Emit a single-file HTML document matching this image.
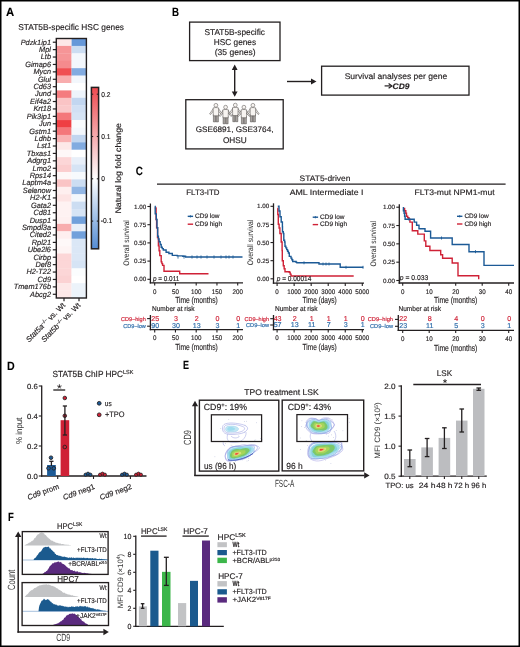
<!DOCTYPE html>
<html><head><meta charset="utf-8"><style>
html,body{margin:0;padding:0;background:#fff;}
svg{display:block;font-family:"Liberation Sans", sans-serif;text-rendering:geometricPrecision;will-change:transform;}
</style></head><body>
<svg width="520" height="647" viewBox="0 0 520 647">
<rect x="0" y="0" width="520" height="647" fill="#fff"/>
<rect x="0.75" y="0.75" width="518.50" height="645.50" fill="none" stroke="#000" stroke-width="1.5" />
<text x="6.10" y="15.63" font-size="12.0" text-anchor="start" fill="#000" stroke="#000" stroke-width="0.1" font-weight="bold" textLength="8.200000000000001" lengthAdjust="spacingAndGlyphs">A</text>
<text x="18.20" y="29.79" font-size="8.5" text-anchor="start" fill="#231f20" stroke="#231f20" stroke-width="0.16" textLength="105.8" lengthAdjust="spacingAndGlyphs">STAT5B-specific HSC genes</text>
<rect x="56.30" y="38.50" width="15.30" height="7.71" fill="#fde8e8" />
<rect x="71.60" y="38.50" width="14.80" height="7.71" fill="#6698d9" />
<line x1="52.80" y1="42.21" x2="56.30" y2="42.21" stroke="#231f20" stroke-width="1.2" />
<text x="51.00" y="44.56" font-size="7.6" text-anchor="end" fill="#231f20" stroke="#231f20" stroke-width="0.16" font-style="italic" textLength="30.33" lengthAdjust="spacingAndGlyphs">Pdzk1ip1</text>
<rect x="56.30" y="45.91" width="15.30" height="7.71" fill="#f69597" />
<rect x="71.60" y="45.91" width="14.80" height="7.71" fill="#ccddf2" />
<line x1="52.80" y1="49.62" x2="56.30" y2="49.62" stroke="#231f20" stroke-width="1.2" />
<text x="51.00" y="51.98" font-size="7.6" text-anchor="end" fill="#231f20" stroke="#231f20" stroke-width="0.16" font-style="italic" textLength="11.88" lengthAdjust="spacingAndGlyphs">Mpl</text>
<rect x="56.30" y="53.33" width="15.30" height="7.71" fill="#f69597" />
<rect x="71.60" y="53.33" width="14.80" height="7.71" fill="#f3f7fc" />
<line x1="52.80" y1="57.04" x2="56.30" y2="57.04" stroke="#231f20" stroke-width="1.2" />
<text x="51.00" y="59.39" font-size="7.6" text-anchor="end" fill="#231f20" stroke="#231f20" stroke-width="0.16" font-style="italic" textLength="10.25" lengthAdjust="spacingAndGlyphs">Ltb</text>
<rect x="56.30" y="60.74" width="15.30" height="7.71" fill="#f58b8d" />
<rect x="71.60" y="60.74" width="14.80" height="7.71" fill="#f3f7fc" />
<line x1="52.80" y1="64.45" x2="56.30" y2="64.45" stroke="#231f20" stroke-width="1.2" />
<text x="51.00" y="66.81" font-size="7.6" text-anchor="end" fill="#231f20" stroke="#231f20" stroke-width="0.16" font-style="italic" textLength="25.81" lengthAdjust="spacingAndGlyphs">Gimap6</text>
<rect x="56.30" y="68.16" width="15.30" height="7.71" fill="#f04f52" />
<rect x="71.60" y="68.16" width="14.80" height="7.71" fill="#82abe0" />
<line x1="52.80" y1="71.86" x2="56.30" y2="71.86" stroke="#231f20" stroke-width="1.2" />
<text x="51.00" y="74.22" font-size="7.6" text-anchor="end" fill="#231f20" stroke="#231f20" stroke-width="0.16" font-style="italic" textLength="17.61" lengthAdjust="spacingAndGlyphs">Mycn</text>
<rect x="56.30" y="75.57" width="15.30" height="7.71" fill="#f8adae" />
<rect x="71.60" y="75.57" width="14.80" height="7.71" fill="#f3f7fc" />
<line x1="52.80" y1="79.28" x2="56.30" y2="79.28" stroke="#231f20" stroke-width="1.2" />
<text x="51.00" y="81.63" font-size="7.6" text-anchor="end" fill="#231f20" stroke="#231f20" stroke-width="0.16" font-style="italic" textLength="13.11" lengthAdjust="spacingAndGlyphs">Glul</text>
<rect x="56.30" y="82.99" width="15.30" height="7.71" fill="#ffffff" />
<rect x="71.60" y="82.99" width="14.80" height="7.71" fill="#ffffff" />
<line x1="52.80" y1="86.69" x2="56.30" y2="86.69" stroke="#231f20" stroke-width="1.2" />
<text x="51.00" y="89.05" font-size="7.6" text-anchor="end" fill="#231f20" stroke="#231f20" stroke-width="0.16" font-style="italic" textLength="17.62" lengthAdjust="spacingAndGlyphs">Cd63</text>
<rect x="56.30" y="90.40" width="15.30" height="7.71" fill="#f47c7f" />
<rect x="71.60" y="90.40" width="14.80" height="7.71" fill="#eef4fb" />
<line x1="52.80" y1="94.11" x2="56.30" y2="94.11" stroke="#231f20" stroke-width="1.2" />
<text x="51.00" y="96.46" font-size="7.6" text-anchor="end" fill="#231f20" stroke="#231f20" stroke-width="0.16" font-style="italic" textLength="15.99" lengthAdjust="spacingAndGlyphs">Jund</text>
<rect x="56.30" y="97.81" width="15.30" height="7.71" fill="#fac4c5" />
<rect x="71.60" y="97.81" width="14.80" height="7.71" fill="#c2d6f0" />
<line x1="52.80" y1="101.52" x2="56.30" y2="101.52" stroke="#231f20" stroke-width="1.2" />
<text x="51.00" y="103.88" font-size="7.6" text-anchor="end" fill="#231f20" stroke="#231f20" stroke-width="0.16" font-style="italic" textLength="20.9" lengthAdjust="spacingAndGlyphs">Eif4a2</text>
<rect x="56.30" y="105.23" width="15.30" height="7.71" fill="#fac9ca" />
<rect x="71.60" y="105.23" width="14.80" height="7.71" fill="#d1e0f4" />
<line x1="52.80" y1="108.94" x2="56.30" y2="108.94" stroke="#231f20" stroke-width="1.2" />
<text x="51.00" y="111.29" font-size="7.6" text-anchor="end" fill="#231f20" stroke="#231f20" stroke-width="0.16" font-style="italic" textLength="17.62" lengthAdjust="spacingAndGlyphs">Krt18</text>
<rect x="56.30" y="112.64" width="15.30" height="7.71" fill="#f4777a" />
<rect x="71.60" y="112.64" width="14.80" height="7.71" fill="#d6e4f5" />
<line x1="52.80" y1="116.35" x2="56.30" y2="116.35" stroke="#231f20" stroke-width="1.2" />
<text x="51.00" y="118.71" font-size="7.6" text-anchor="end" fill="#231f20" stroke="#231f20" stroke-width="0.16" font-style="italic" textLength="24.18" lengthAdjust="spacingAndGlyphs">Pik3ip1</text>
<rect x="56.30" y="120.06" width="15.30" height="7.71" fill="#ef3f43" />
<rect x="71.60" y="120.06" width="14.80" height="7.71" fill="#f9fbfd" />
<line x1="52.80" y1="123.76" x2="56.30" y2="123.76" stroke="#231f20" stroke-width="1.2" />
<text x="51.00" y="126.12" font-size="7.6" text-anchor="end" fill="#231f20" stroke="#231f20" stroke-width="0.16" font-style="italic" textLength="11.89" lengthAdjust="spacingAndGlyphs">Jun</text>
<rect x="56.30" y="127.47" width="15.30" height="7.71" fill="#f4777a" />
<rect x="71.60" y="127.47" width="14.80" height="7.71" fill="#f3f7fc" />
<line x1="52.80" y1="131.18" x2="56.30" y2="131.18" stroke="#231f20" stroke-width="1.2" />
<text x="51.00" y="133.53" font-size="7.6" text-anchor="end" fill="#231f20" stroke="#231f20" stroke-width="0.16" font-style="italic" textLength="21.71" lengthAdjust="spacingAndGlyphs">Gstm1</text>
<rect x="56.30" y="134.89" width="15.30" height="7.71" fill="#f9b2b3" />
<rect x="71.60" y="134.89" width="14.80" height="7.71" fill="#c2d6f0" />
<line x1="52.80" y1="138.59" x2="56.30" y2="138.59" stroke="#231f20" stroke-width="1.2" />
<text x="51.00" y="140.95" font-size="7.6" text-anchor="end" fill="#231f20" stroke="#231f20" stroke-width="0.16" font-style="italic" textLength="16.4" lengthAdjust="spacingAndGlyphs">Ldhb</text>
<rect x="56.30" y="142.30" width="15.30" height="7.71" fill="#fde8e8" />
<rect x="71.60" y="142.30" width="14.80" height="7.71" fill="#82abe0" />
<line x1="52.80" y1="146.01" x2="56.30" y2="146.01" stroke="#231f20" stroke-width="1.2" />
<text x="51.00" y="148.36" font-size="7.6" text-anchor="end" fill="#231f20" stroke="#231f20" stroke-width="0.16" font-style="italic" textLength="13.93" lengthAdjust="spacingAndGlyphs">Lst1</text>
<rect x="56.30" y="149.71" width="15.30" height="7.71" fill="#fef8f8" />
<rect x="71.60" y="149.71" width="14.80" height="7.71" fill="#ffffff" />
<line x1="52.80" y1="153.42" x2="56.30" y2="153.42" stroke="#231f20" stroke-width="1.2" />
<text x="51.00" y="155.78" font-size="7.6" text-anchor="end" fill="#231f20" stroke="#231f20" stroke-width="0.16" font-style="italic" textLength="24.18" lengthAdjust="spacingAndGlyphs">Tbxas1</text>
<rect x="56.30" y="157.13" width="15.30" height="7.71" fill="#fcd6d7" />
<rect x="71.60" y="157.13" width="14.80" height="7.71" fill="#e8eff9" />
<line x1="52.80" y1="160.84" x2="56.30" y2="160.84" stroke="#231f20" stroke-width="1.2" />
<text x="51.00" y="163.19" font-size="7.6" text-anchor="end" fill="#231f20" stroke="#231f20" stroke-width="0.16" font-style="italic" textLength="23.77" lengthAdjust="spacingAndGlyphs">Adgrg1</text>
<rect x="56.30" y="164.54" width="15.30" height="7.71" fill="#fbcdce" />
<rect x="71.60" y="164.54" width="14.80" height="7.71" fill="#d6e4f5" />
<line x1="52.80" y1="168.25" x2="56.30" y2="168.25" stroke="#231f20" stroke-width="1.2" />
<text x="51.00" y="170.61" font-size="7.6" text-anchor="end" fill="#231f20" stroke="#231f20" stroke-width="0.16" font-style="italic" textLength="18.44" lengthAdjust="spacingAndGlyphs">Lmo2</text>
<rect x="56.30" y="171.96" width="15.30" height="7.71" fill="#fef7f7" />
<rect x="71.60" y="171.96" width="14.80" height="7.71" fill="#f7fafd" />
<line x1="52.80" y1="175.66" x2="56.30" y2="175.66" stroke="#231f20" stroke-width="1.2" />
<text x="51.00" y="178.02" font-size="7.6" text-anchor="end" fill="#231f20" stroke="#231f20" stroke-width="0.16" font-style="italic" textLength="21.31" lengthAdjust="spacingAndGlyphs">Rps14</text>
<rect x="56.30" y="179.37" width="15.30" height="7.71" fill="#fac4c5" />
<rect x="71.60" y="179.37" width="14.80" height="7.71" fill="#ccddf2" />
<line x1="52.80" y1="183.08" x2="56.30" y2="183.08" stroke="#231f20" stroke-width="1.2" />
<text x="51.00" y="185.43" font-size="7.6" text-anchor="end" fill="#231f20" stroke="#231f20" stroke-width="0.16" font-style="italic" textLength="28.69" lengthAdjust="spacingAndGlyphs">Laptm4a</text>
<rect x="56.30" y="186.79" width="15.30" height="7.71" fill="#feefef" />
<rect x="71.60" y="186.79" width="14.80" height="7.71" fill="#92b6e4" />
<line x1="52.80" y1="190.49" x2="56.30" y2="190.49" stroke="#231f20" stroke-width="1.2" />
<text x="51.00" y="192.85" font-size="7.6" text-anchor="end" fill="#231f20" stroke="#231f20" stroke-width="0.16" font-style="italic" textLength="28.28" lengthAdjust="spacingAndGlyphs">Selenow</text>
<rect x="56.30" y="194.20" width="15.30" height="7.71" fill="#fde4e4" />
<rect x="71.60" y="194.20" width="14.80" height="7.71" fill="#f3f7fc" />
<line x1="52.80" y1="197.91" x2="56.30" y2="197.91" stroke="#231f20" stroke-width="1.2" />
<text x="51.00" y="200.26" font-size="7.6" text-anchor="end" fill="#231f20" stroke="#231f20" stroke-width="0.16" font-style="italic" textLength="20.9" lengthAdjust="spacingAndGlyphs">H2-K1</text>
<rect x="56.30" y="201.61" width="15.30" height="7.71" fill="#fef2f2" />
<rect x="71.60" y="201.61" width="14.80" height="7.71" fill="#ccddf2" />
<line x1="52.80" y1="205.32" x2="56.30" y2="205.32" stroke="#231f20" stroke-width="1.2" />
<text x="51.00" y="207.68" font-size="7.6" text-anchor="end" fill="#231f20" stroke="#231f20" stroke-width="0.16" font-style="italic" textLength="20.08" lengthAdjust="spacingAndGlyphs">Gata2</text>
<rect x="56.30" y="209.03" width="15.30" height="7.71" fill="#fef2f2" />
<rect x="71.60" y="209.03" width="14.80" height="7.71" fill="#d6e4f5" />
<line x1="52.80" y1="212.74" x2="56.30" y2="212.74" stroke="#231f20" stroke-width="1.2" />
<text x="51.00" y="215.09" font-size="7.6" text-anchor="end" fill="#231f20" stroke="#231f20" stroke-width="0.16" font-style="italic" textLength="17.62" lengthAdjust="spacingAndGlyphs">Cd81</text>
<rect x="56.30" y="216.44" width="15.30" height="7.71" fill="#fef0f0" />
<rect x="71.60" y="216.44" width="14.80" height="7.71" fill="#71a0db" />
<line x1="52.80" y1="220.15" x2="56.30" y2="220.15" stroke="#231f20" stroke-width="1.2" />
<text x="51.00" y="222.51" font-size="7.6" text-anchor="end" fill="#231f20" stroke="#231f20" stroke-width="0.16" font-style="italic" textLength="21.31" lengthAdjust="spacingAndGlyphs">Dusp1</text>
<rect x="56.30" y="223.86" width="15.30" height="7.71" fill="#f8adae" />
<rect x="71.60" y="223.86" width="14.80" height="7.71" fill="#e8eff9" />
<line x1="52.80" y1="227.56" x2="56.30" y2="227.56" stroke="#231f20" stroke-width="1.2" />
<text x="51.00" y="229.92" font-size="7.6" text-anchor="end" fill="#231f20" stroke="#231f20" stroke-width="0.16" font-style="italic" textLength="29.1" lengthAdjust="spacingAndGlyphs">Smpdl3a</text>
<rect x="56.30" y="231.27" width="15.30" height="7.71" fill="#feefef" />
<rect x="71.60" y="231.27" width="14.80" height="7.71" fill="#71a0db" />
<line x1="52.80" y1="234.98" x2="56.30" y2="234.98" stroke="#231f20" stroke-width="1.2" />
<text x="51.00" y="237.33" font-size="7.6" text-anchor="end" fill="#231f20" stroke="#231f20" stroke-width="0.16" font-style="italic" textLength="21.31" lengthAdjust="spacingAndGlyphs">Cited2</text>
<rect x="56.30" y="238.69" width="15.30" height="7.71" fill="#fef8f8" />
<rect x="71.60" y="238.69" width="14.80" height="7.71" fill="#dbe7f6" />
<line x1="52.80" y1="242.39" x2="56.30" y2="242.39" stroke="#231f20" stroke-width="1.2" />
<text x="51.00" y="244.75" font-size="7.6" text-anchor="end" fill="#231f20" stroke="#231f20" stroke-width="0.16" font-style="italic" textLength="19.26" lengthAdjust="spacingAndGlyphs">Rpl21</text>
<rect x="56.30" y="246.10" width="15.30" height="7.71" fill="#fef4f4" />
<rect x="71.60" y="246.10" width="14.80" height="7.71" fill="#dbe7f6" />
<line x1="52.80" y1="249.81" x2="56.30" y2="249.81" stroke="#231f20" stroke-width="1.2" />
<text x="51.00" y="252.16" font-size="7.6" text-anchor="end" fill="#231f20" stroke="#231f20" stroke-width="0.16" font-style="italic" textLength="23.36" lengthAdjust="spacingAndGlyphs">Ube2l6</text>
<rect x="56.30" y="253.51" width="15.30" height="7.71" fill="#fcd6d7" />
<rect x="71.60" y="253.51" width="14.80" height="7.71" fill="#dbe7f6" />
<line x1="52.80" y1="257.22" x2="56.30" y2="257.22" stroke="#231f20" stroke-width="1.2" />
<text x="51.00" y="259.58" font-size="7.6" text-anchor="end" fill="#231f20" stroke="#231f20" stroke-width="0.16" font-style="italic" textLength="17.62" lengthAdjust="spacingAndGlyphs">Cirbp</text>
<rect x="56.30" y="260.93" width="15.30" height="7.71" fill="#fcd6d7" />
<rect x="71.60" y="260.93" width="14.80" height="7.71" fill="#d6e4f5" />
<line x1="52.80" y1="264.64" x2="56.30" y2="264.64" stroke="#231f20" stroke-width="1.2" />
<text x="51.00" y="266.99" font-size="7.6" text-anchor="end" fill="#231f20" stroke="#231f20" stroke-width="0.16" font-style="italic" textLength="15.57" lengthAdjust="spacingAndGlyphs">Def8</text>
<rect x="56.30" y="268.34" width="15.30" height="7.71" fill="#fcd6d7" />
<rect x="71.60" y="268.34" width="14.80" height="7.71" fill="#fbfdfe" />
<line x1="52.80" y1="272.05" x2="56.30" y2="272.05" stroke="#231f20" stroke-width="1.2" />
<text x="51.00" y="274.41" font-size="7.6" text-anchor="end" fill="#231f20" stroke="#231f20" stroke-width="0.16" font-style="italic" textLength="24.58" lengthAdjust="spacingAndGlyphs">H2-T22</text>
<rect x="56.30" y="275.76" width="15.30" height="7.71" fill="#fbd2d3" />
<rect x="71.60" y="275.76" width="14.80" height="7.71" fill="#ffffff" />
<line x1="52.80" y1="279.46" x2="56.30" y2="279.46" stroke="#231f20" stroke-width="1.2" />
<text x="51.00" y="281.82" font-size="7.6" text-anchor="end" fill="#231f20" stroke="#231f20" stroke-width="0.16" font-style="italic" textLength="13.52" lengthAdjust="spacingAndGlyphs">Cd9</text>
<rect x="56.30" y="283.17" width="15.30" height="7.71" fill="#fde8e8" />
<rect x="71.60" y="283.17" width="14.80" height="7.71" fill="#ecf3fa" />
<line x1="52.80" y1="286.88" x2="56.30" y2="286.88" stroke="#231f20" stroke-width="1.2" />
<text x="51.00" y="289.23" font-size="7.6" text-anchor="end" fill="#231f20" stroke="#231f20" stroke-width="0.16" font-style="italic" textLength="37.29" lengthAdjust="spacingAndGlyphs">Tmem176b</text>
<rect x="56.30" y="290.59" width="15.30" height="7.71" fill="#fde8e8" />
<rect x="71.60" y="290.59" width="14.80" height="7.71" fill="#ecf3fa" />
<line x1="52.80" y1="294.29" x2="56.30" y2="294.29" stroke="#231f20" stroke-width="1.2" />
<text x="51.00" y="296.65" font-size="7.6" text-anchor="end" fill="#231f20" stroke="#231f20" stroke-width="0.16" font-style="italic" textLength="20.9" lengthAdjust="spacingAndGlyphs">Abcg2</text>
<rect x="56.30" y="38.50" width="30.10" height="259.50" fill="none" stroke="#231f20" stroke-width="1.4" />
<line x1="64.00" y1="298.00" x2="64.00" y2="301.20" stroke="#231f20" stroke-width="1.2" />
<line x1="79.00" y1="298.00" x2="79.00" y2="301.20" stroke="#231f20" stroke-width="1.2" />
<text transform="translate(65.80,305.8) rotate(-45)" x="0" y="0" font-size="7.6" text-anchor="end" fill="#231f20" stroke="#231f20" stroke-width="0.16"><tspan font-style="italic">Stat5a</tspan><tspan font-size="5" dy="-2.8">–/–</tspan><tspan dy="2.8"> vs. Wt</tspan></text>
<text transform="translate(81.00,305.8) rotate(-45)" x="0" y="0" font-size="7.6" text-anchor="end" fill="#231f20" stroke="#231f20" stroke-width="0.16"><tspan font-style="italic">Stat5b</tspan><tspan font-size="5" dy="-2.8">–/–</tspan><tspan dy="2.8"> vs. Wt</tspan></text>
<defs><linearGradient id="cbg" x1="0" y1="0" x2="0" y2="1"><stop offset="0" stop-color="#ee4a50"/><stop offset="0.5663" stop-color="#ffffff"/><stop offset="1" stop-color="#548cd4"/></linearGradient></defs>
<rect x="91.40" y="87.40" width="7.20" height="161.40" fill="url(#cbg)" stroke="#231f20" stroke-width="1.5" />
<line x1="91.40" y1="94.20" x2="93.20" y2="94.20" stroke="#231f20" stroke-width="1.1" />
<line x1="96.80" y1="94.20" x2="98.60" y2="94.20" stroke="#231f20" stroke-width="1.1" />
<text x="101.30" y="96.58" font-size="7.0" text-anchor="start" fill="#231f20" stroke="#231f20" stroke-width="0.16" textLength="9.24" lengthAdjust="spacingAndGlyphs">0.2</text>
<line x1="91.40" y1="136.50" x2="93.20" y2="136.50" stroke="#231f20" stroke-width="1.1" />
<line x1="96.80" y1="136.50" x2="98.60" y2="136.50" stroke="#231f20" stroke-width="1.1" />
<text x="101.30" y="138.88" font-size="7.0" text-anchor="start" fill="#231f20" stroke="#231f20" stroke-width="0.16" textLength="9.24" lengthAdjust="spacingAndGlyphs">0.1</text>
<line x1="91.40" y1="178.80" x2="93.20" y2="178.80" stroke="#231f20" stroke-width="1.1" />
<line x1="96.80" y1="178.80" x2="98.60" y2="178.80" stroke="#231f20" stroke-width="1.1" />
<text x="101.30" y="181.18" font-size="7.0" text-anchor="start" fill="#231f20" stroke="#231f20" stroke-width="0.16" textLength="3.7" lengthAdjust="spacingAndGlyphs">0</text>
<line x1="91.40" y1="221.10" x2="93.20" y2="221.10" stroke="#231f20" stroke-width="1.1" />
<line x1="96.80" y1="221.10" x2="98.60" y2="221.10" stroke="#231f20" stroke-width="1.1" />
<text x="100.80" y="223.48" font-size="7.0" text-anchor="start" fill="#231f20" stroke="#231f20" stroke-width="0.16" textLength="11.46" lengthAdjust="spacingAndGlyphs">-0.1</text>
<text transform="translate(118.00,168.30) rotate(-90)" x="0" y="2.79" font-size="8.2" text-anchor="middle" fill="#231f20" stroke="#231f20" stroke-width="0.16" textLength="90.5" lengthAdjust="spacingAndGlyphs">Natural log fold change</text>
<text x="171.90" y="15.63" font-size="12.0" text-anchor="start" fill="#000" stroke="#000" stroke-width="0.1" font-weight="bold" textLength="7.0" lengthAdjust="spacingAndGlyphs">B</text>
<rect x="189.60" y="22.10" width="90.40" height="38.50" fill="none" stroke="#231f20" stroke-width="1.3" />
<text x="234.70" y="34.79" font-size="8.5" text-anchor="middle" fill="#231f20" stroke="#231f20" stroke-width="0.16" textLength="60.6" lengthAdjust="spacingAndGlyphs">STAT5B-specific</text>
<text x="234.95" y="44.89" font-size="8.5" text-anchor="middle" fill="#231f20" stroke="#231f20" stroke-width="0.16" textLength="42.3" lengthAdjust="spacingAndGlyphs">HSC genes</text>
<text x="235.15" y="55.19" font-size="8.5" text-anchor="middle" fill="#231f20" stroke="#231f20" stroke-width="0.16" textLength="40.9" lengthAdjust="spacingAndGlyphs">(35 genes)</text>
<line x1="234.70" y1="68.50" x2="234.70" y2="93.00" stroke="#231f20" stroke-width="1.4" />
<path d="M234.7,64.6 L231.8,70.0 L237.6,70.0 Z" fill="#231f20"/>
<path d="M234.7,96.8 L231.8,91.4 L237.6,91.4 Z" fill="#231f20"/>
<rect x="185.80" y="99.70" width="97.40" height="49.20" fill="none" stroke="#231f20" stroke-width="1.3" />
<text x="234.60" y="132.12" font-size="8.0" text-anchor="middle" fill="#231f20" stroke="#231f20" stroke-width="0.16" textLength="77.8" lengthAdjust="spacingAndGlyphs">GSE6891, GSE3764,</text>
<text x="234.80" y="142.62" font-size="8.3" text-anchor="middle" fill="#231f20" stroke="#231f20" stroke-width="0.16" textLength="23.8" lengthAdjust="spacingAndGlyphs">OHSU</text>
<path d="M213.40,114.30 L215.65,114.30 L215.65,121.90 L213.40,121.90 Z" fill="#a9a5a2" stroke="#3a3634" stroke-width="0.45"/>
<path d="M216.15,114.30 L218.40,114.30 L218.40,121.90 L216.15,121.90 Z" fill="#a9a5a2" stroke="#3a3634" stroke-width="0.45"/>
<path d="M213.50,108.30 L209.60,113.90 L210.60,114.50 L213.50,110.90 Z" fill="#f7f4f1" stroke="#3a3634" stroke-width="0.45" stroke-linejoin="round"/>
<path d="M218.30,108.30 L222.20,113.90 L221.20,114.50 L218.30,110.90 Z" fill="#f7f4f1" stroke="#3a3634" stroke-width="0.45" stroke-linejoin="round"/>
<path d="M213.10,107.90 Q215.90,107.10 218.70,107.90 L218.50,115.80 L213.30,115.80 Z" fill="#f7f4f1" stroke="#3a3634" stroke-width="0.45" stroke-linejoin="round"/>
<circle cx="215.90" cy="105.30" r="1.9" fill="#f7f4f1" stroke="#3a3634" stroke-width="0.45"/>
<path d="M223.10,116.20 L225.35,116.20 L225.35,123.80 L223.10,123.80 Z" fill="#a9a5a2" stroke="#3a3634" stroke-width="0.45"/>
<path d="M225.85,116.20 L228.10,116.20 L228.10,123.80 L225.85,123.80 Z" fill="#a9a5a2" stroke="#3a3634" stroke-width="0.45"/>
<path d="M223.20,110.20 L219.30,115.80 L220.30,116.40 L223.20,112.80 Z" fill="#f7f4f1" stroke="#3a3634" stroke-width="0.45" stroke-linejoin="round"/>
<path d="M228.00,110.20 L231.90,115.80 L230.90,116.40 L228.00,112.80 Z" fill="#f7f4f1" stroke="#3a3634" stroke-width="0.45" stroke-linejoin="round"/>
<path d="M222.80,109.80 Q225.60,109.00 228.40,109.80 L228.20,117.70 L223.00,117.70 Z" fill="#f7f4f1" stroke="#3a3634" stroke-width="0.45" stroke-linejoin="round"/>
<circle cx="225.60" cy="107.20" r="1.9" fill="#f7f4f1" stroke="#3a3634" stroke-width="0.45"/>
<path d="M232.80,114.10 L235.05,114.10 L235.05,121.70 L232.80,121.70 Z" fill="#a9a5a2" stroke="#3a3634" stroke-width="0.45"/>
<path d="M235.55,114.10 L237.80,114.10 L237.80,121.70 L235.55,121.70 Z" fill="#a9a5a2" stroke="#3a3634" stroke-width="0.45"/>
<path d="M232.90,108.10 L229.00,113.70 L230.00,114.30 L232.90,110.70 Z" fill="#f7f4f1" stroke="#3a3634" stroke-width="0.45" stroke-linejoin="round"/>
<path d="M237.70,108.10 L241.60,113.70 L240.60,114.30 L237.70,110.70 Z" fill="#f7f4f1" stroke="#3a3634" stroke-width="0.45" stroke-linejoin="round"/>
<path d="M232.50,107.70 Q235.30,106.90 238.10,107.70 L237.90,115.60 L232.70,115.60 Z" fill="#f7f4f1" stroke="#3a3634" stroke-width="0.45" stroke-linejoin="round"/>
<circle cx="235.30" cy="105.10" r="1.9" fill="#f7f4f1" stroke="#3a3634" stroke-width="0.45"/>
<path d="M241.40,116.20 L243.65,116.20 L243.65,123.80 L241.40,123.80 Z" fill="#a9a5a2" stroke="#3a3634" stroke-width="0.45"/>
<path d="M244.15,116.20 L246.40,116.20 L246.40,123.80 L244.15,123.80 Z" fill="#a9a5a2" stroke="#3a3634" stroke-width="0.45"/>
<path d="M241.50,110.20 L237.60,115.80 L238.60,116.40 L241.50,112.80 Z" fill="#f7f4f1" stroke="#3a3634" stroke-width="0.45" stroke-linejoin="round"/>
<path d="M246.30,110.20 L250.20,115.80 L249.20,116.40 L246.30,112.80 Z" fill="#f7f4f1" stroke="#3a3634" stroke-width="0.45" stroke-linejoin="round"/>
<path d="M241.10,109.80 Q243.90,109.00 246.70,109.80 L246.50,117.70 L241.30,117.70 Z" fill="#f7f4f1" stroke="#3a3634" stroke-width="0.45" stroke-linejoin="round"/>
<circle cx="243.90" cy="107.20" r="1.9" fill="#f7f4f1" stroke="#3a3634" stroke-width="0.45"/>
<path d="M250.40,114.30 L252.65,114.30 L252.65,121.90 L250.40,121.90 Z" fill="#a9a5a2" stroke="#3a3634" stroke-width="0.45"/>
<path d="M253.15,114.30 L255.40,114.30 L255.40,121.90 L253.15,121.90 Z" fill="#a9a5a2" stroke="#3a3634" stroke-width="0.45"/>
<path d="M250.50,108.30 L246.60,113.90 L247.60,114.50 L250.50,110.90 Z" fill="#f7f4f1" stroke="#3a3634" stroke-width="0.45" stroke-linejoin="round"/>
<path d="M255.30,108.30 L259.20,113.90 L258.20,114.50 L255.30,110.90 Z" fill="#f7f4f1" stroke="#3a3634" stroke-width="0.45" stroke-linejoin="round"/>
<path d="M250.10,107.90 Q252.90,107.10 255.70,107.90 L255.50,115.80 L250.30,115.80 Z" fill="#f7f4f1" stroke="#3a3634" stroke-width="0.45" stroke-linejoin="round"/>
<circle cx="252.90" cy="105.30" r="1.9" fill="#f7f4f1" stroke="#3a3634" stroke-width="0.45"/>
<line x1="287.00" y1="81.50" x2="312.30" y2="81.50" stroke="#231f20" stroke-width="1.4" />
<path d="M316.5,81.5 L311.0,78.6 L311.0,84.4 Z" fill="#231f20"/>
<rect x="321.60" y="66.20" width="147.40" height="28.90" fill="none" stroke="#231f20" stroke-width="1.3" />
<text x="396.00" y="79.09" font-size="8.2" text-anchor="middle" fill="#231f20" stroke="#231f20" stroke-width="0.16" textLength="102.7" lengthAdjust="spacingAndGlyphs">Survival analyses per gene</text>
<line x1="384.60" y1="85.90" x2="390.60" y2="85.90" stroke="#231f20" stroke-width="1.2" />
<path d="M388.6,83.6 L391.9,85.9 L388.6,88.2" fill="none" stroke="#231f20" stroke-width="1.2"/>
<text x="392.60" y="88.62" font-size="8.0" text-anchor="start" fill="#231f20" stroke="#231f20" stroke-width="0.16" font-weight="bold" font-style="italic" textLength="16.8" lengthAdjust="spacingAndGlyphs">CD9</text>
<text x="135.80" y="174.78" font-size="12.0" text-anchor="start" fill="#000" stroke="#000" stroke-width="0.1" font-weight="bold" textLength="7.099999999999994" lengthAdjust="spacingAndGlyphs">C</text>
<text x="325.00" y="181.32" font-size="8.0" text-anchor="middle" fill="#231f20" stroke="#231f20" stroke-width="0.16" textLength="50.8" lengthAdjust="spacingAndGlyphs">STAT5-driven</text>
<line x1="157.00" y1="184.20" x2="505.60" y2="184.20" stroke="#231f20" stroke-width="1.3" />
<text x="202.90" y="194.62" font-size="8.0" text-anchor="middle" fill="#231f20" stroke="#231f20" stroke-width="0.16" textLength="33.3" lengthAdjust="spacingAndGlyphs">FLT3-ITD</text>
<text x="326.60" y="194.82" font-size="8.0" text-anchor="middle" fill="#231f20" stroke="#231f20" stroke-width="0.16" textLength="73.8" lengthAdjust="spacingAndGlyphs">AML Intermediate I</text>
<text x="454.60" y="194.82" font-size="8.0" text-anchor="middle" fill="#231f20" stroke="#231f20" stroke-width="0.16" textLength="80" lengthAdjust="spacingAndGlyphs">FLT3-mut NPM1-mut</text>
<line x1="150.40" y1="203.50" x2="150.40" y2="283.45" stroke="#231f20" stroke-width="1.3" />
<line x1="147.40" y1="206.50" x2="150.40" y2="206.50" stroke="#231f20" stroke-width="1.1" />
<text x="146.20" y="208.61" font-size="6.2" text-anchor="end" fill="#231f20" stroke="#231f20" stroke-width="0.16" textLength="12.2" lengthAdjust="spacingAndGlyphs">1.00</text>
<line x1="147.40" y1="224.70" x2="150.40" y2="224.70" stroke="#231f20" stroke-width="1.1" />
<text x="146.20" y="226.81" font-size="6.2" text-anchor="end" fill="#231f20" stroke="#231f20" stroke-width="0.16" textLength="12.2" lengthAdjust="spacingAndGlyphs">0.75</text>
<line x1="147.40" y1="242.90" x2="150.40" y2="242.90" stroke="#231f20" stroke-width="1.1" />
<text x="146.20" y="245.01" font-size="6.2" text-anchor="end" fill="#231f20" stroke="#231f20" stroke-width="0.16" textLength="12.2" lengthAdjust="spacingAndGlyphs">0.50</text>
<line x1="147.40" y1="261.10" x2="150.40" y2="261.10" stroke="#231f20" stroke-width="1.1" />
<text x="146.20" y="263.21" font-size="6.2" text-anchor="end" fill="#231f20" stroke="#231f20" stroke-width="0.16" textLength="12.2" lengthAdjust="spacingAndGlyphs">0.25</text>
<line x1="147.40" y1="279.30" x2="150.40" y2="279.30" stroke="#231f20" stroke-width="1.1" />
<text x="146.20" y="281.41" font-size="6.2" text-anchor="end" fill="#231f20" stroke="#231f20" stroke-width="0.16" textLength="12.2" lengthAdjust="spacingAndGlyphs">0.00</text>
<line x1="149.75" y1="282.80" x2="243.00" y2="282.80" stroke="#231f20" stroke-width="1.3" />
<line x1="154.70" y1="282.80" x2="154.70" y2="285.60" stroke="#231f20" stroke-width="1.1" />
<text x="154.70" y="293.78" font-size="6.7" text-anchor="middle" fill="#231f20" stroke="#231f20" stroke-width="0.16" textLength="3.47" lengthAdjust="spacingAndGlyphs">0</text>
<line x1="175.45" y1="282.80" x2="175.45" y2="285.60" stroke="#231f20" stroke-width="1.1" />
<text x="175.45" y="293.78" font-size="6.7" text-anchor="middle" fill="#231f20" stroke="#231f20" stroke-width="0.16" textLength="6.93" lengthAdjust="spacingAndGlyphs">50</text>
<line x1="196.20" y1="282.80" x2="196.20" y2="285.60" stroke="#231f20" stroke-width="1.1" />
<text x="196.20" y="293.78" font-size="6.7" text-anchor="middle" fill="#231f20" stroke="#231f20" stroke-width="0.16" textLength="10.4" lengthAdjust="spacingAndGlyphs">100</text>
<line x1="216.95" y1="282.80" x2="216.95" y2="285.60" stroke="#231f20" stroke-width="1.1" />
<text x="216.95" y="293.78" font-size="6.7" text-anchor="middle" fill="#231f20" stroke="#231f20" stroke-width="0.16" textLength="10.4" lengthAdjust="spacingAndGlyphs">150</text>
<line x1="237.70" y1="282.80" x2="237.70" y2="285.60" stroke="#231f20" stroke-width="1.1" />
<text x="237.70" y="293.78" font-size="6.7" text-anchor="middle" fill="#231f20" stroke="#231f20" stroke-width="0.16" textLength="10.4" lengthAdjust="spacingAndGlyphs">200</text>
<text x="196.50" y="303.09" font-size="8.8" text-anchor="middle" fill="#231f20" stroke="#231f20" stroke-width="0.16" textLength="42.7" lengthAdjust="spacingAndGlyphs">Time (months)</text>
<text transform="translate(126.30,242.90) rotate(-90)" x="0" y="2.72" font-size="8.0" text-anchor="middle" fill="#3a3a3a" stroke="#3a3a3a" stroke-width="0.05" textLength="45.5" lengthAdjust="spacingAndGlyphs">Overall survival</text>
<path d="M155.40,207.50 L155.60,207.50 L155.60,208.30 L156.10,208.30 L156.10,219.50 L156.60,219.50 L156.60,227.80 L157.50,227.80 L157.50,237.60 L158.40,237.60 L158.40,245.90 L159.10,245.90 L159.10,250.75 L159.80,250.75 L159.80,255.60 L161.20,255.60 L161.20,261.90 L161.90,261.90 L161.90,263.65 L162.60,263.65 L162.60,265.40 L164.00,265.40 L164.00,271.20 L179.70,271.20 L179.70,273.70 L208.50,273.70" stroke="#cf2136" stroke-width="1.4" fill="none" stroke-linejoin="miter" />
<path d="M154.70,206.50 L155.20,206.50 L155.20,213.90 L156.30,213.90 L156.30,219.50 L157.00,219.50 L157.00,227.80 L157.70,227.80 L157.70,236.20 L158.40,236.20 L158.40,238.95 L159.10,238.95 L159.10,241.70 L160.15,241.70 L160.15,244.50 L161.20,244.50 L161.20,247.30 L162.25,247.30 L162.25,248.65 L163.30,248.65 L163.30,250.00 L166.10,250.00 L166.10,252.20 L168.90,252.20 L168.90,253.50 L172.30,253.50 L172.30,255.40 L177.20,255.40 L177.20,255.90 L182.80,255.90 L182.80,256.30 L185.60,256.30 L185.60,257.00 L242.50,257.00" stroke="#1c5a96" stroke-width="1.4" fill="none" stroke-linejoin="miter" />
<line x1="178.00" y1="255.40" x2="178.00" y2="258.60" stroke="#1c5a96" stroke-width="0.8" />
<line x1="184.00" y1="255.40" x2="184.00" y2="258.60" stroke="#1c5a96" stroke-width="0.8" />
<line x1="192.00" y1="255.40" x2="192.00" y2="258.60" stroke="#1c5a96" stroke-width="0.8" />
<line x1="197.00" y1="255.40" x2="197.00" y2="258.60" stroke="#1c5a96" stroke-width="0.8" />
<line x1="201.00" y1="255.40" x2="201.00" y2="258.60" stroke="#1c5a96" stroke-width="0.8" />
<line x1="207.00" y1="255.40" x2="207.00" y2="258.60" stroke="#1c5a96" stroke-width="0.8" />
<line x1="214.00" y1="255.40" x2="214.00" y2="258.60" stroke="#1c5a96" stroke-width="0.8" />
<line x1="221.00" y1="255.40" x2="221.00" y2="258.60" stroke="#1c5a96" stroke-width="0.8" />
<line x1="226.00" y1="255.40" x2="226.00" y2="258.60" stroke="#1c5a96" stroke-width="0.8" />
<line x1="229.00" y1="255.40" x2="229.00" y2="258.60" stroke="#1c5a96" stroke-width="0.8" />
<line x1="233.00" y1="255.40" x2="233.00" y2="258.60" stroke="#1c5a96" stroke-width="0.8" />
<line x1="187.70" y1="216.35" x2="193.10" y2="216.35" stroke="#1c5a96" stroke-width="1.4" />
<line x1="190.40" y1="215.25" x2="190.40" y2="217.45" stroke="#1c5a96" stroke-width="0.9" />
<text x="195.10" y="218.13" font-size="6.4" text-anchor="start" fill="#231f20" stroke="#231f20" stroke-width="0.16" textLength="24.4" lengthAdjust="spacingAndGlyphs">CD9 low</text>
<line x1="187.70" y1="224.20" x2="193.10" y2="224.20" stroke="#cf2136" stroke-width="1.4" />
<text x="195.10" y="225.98" font-size="6.4" text-anchor="start" fill="#231f20" stroke="#231f20" stroke-width="0.16" textLength="26.9" lengthAdjust="spacingAndGlyphs">CD9 high</text>
<text x="152.90" y="280.98" font-size="7.0" text-anchor="start" fill="#231f20" stroke="#231f20" stroke-width="0.16" textLength="26.4" lengthAdjust="spacingAndGlyphs"><tspan font-style="italic">p</tspan> = 0.011</text>
<line x1="273.50" y1="203.30" x2="273.50" y2="283.75" stroke="#231f20" stroke-width="1.3" />
<line x1="270.50" y1="206.30" x2="273.50" y2="206.30" stroke="#231f20" stroke-width="1.1" />
<text x="269.30" y="208.41" font-size="6.2" text-anchor="end" fill="#231f20" stroke="#231f20" stroke-width="0.16" textLength="12.2" lengthAdjust="spacingAndGlyphs">1.00</text>
<line x1="270.50" y1="224.43" x2="273.50" y2="224.43" stroke="#231f20" stroke-width="1.1" />
<text x="269.30" y="226.53" font-size="6.2" text-anchor="end" fill="#231f20" stroke="#231f20" stroke-width="0.16" textLength="12.2" lengthAdjust="spacingAndGlyphs">0.75</text>
<line x1="270.50" y1="242.55" x2="273.50" y2="242.55" stroke="#231f20" stroke-width="1.1" />
<text x="269.30" y="244.66" font-size="6.2" text-anchor="end" fill="#231f20" stroke="#231f20" stroke-width="0.16" textLength="12.2" lengthAdjust="spacingAndGlyphs">0.50</text>
<line x1="270.50" y1="260.68" x2="273.50" y2="260.68" stroke="#231f20" stroke-width="1.1" />
<text x="269.30" y="262.78" font-size="6.2" text-anchor="end" fill="#231f20" stroke="#231f20" stroke-width="0.16" textLength="12.2" lengthAdjust="spacingAndGlyphs">0.25</text>
<line x1="270.50" y1="278.80" x2="273.50" y2="278.80" stroke="#231f20" stroke-width="1.1" />
<text x="269.30" y="280.91" font-size="6.2" text-anchor="end" fill="#231f20" stroke="#231f20" stroke-width="0.16" textLength="12.2" lengthAdjust="spacingAndGlyphs">0.00</text>
<line x1="272.85" y1="283.10" x2="364.00" y2="283.10" stroke="#231f20" stroke-width="1.3" />
<line x1="277.10" y1="283.10" x2="277.10" y2="285.90" stroke="#231f20" stroke-width="1.1" />
<text x="277.10" y="294.08" font-size="6.7" text-anchor="middle" fill="#231f20" stroke="#231f20" stroke-width="0.16" textLength="3.47" lengthAdjust="spacingAndGlyphs">0</text>
<line x1="294.14" y1="283.10" x2="294.14" y2="285.90" stroke="#231f20" stroke-width="1.1" />
<text x="294.14" y="294.08" font-size="6.7" text-anchor="middle" fill="#231f20" stroke="#231f20" stroke-width="0.16" textLength="13.86" lengthAdjust="spacingAndGlyphs">1000</text>
<line x1="311.18" y1="283.10" x2="311.18" y2="285.90" stroke="#231f20" stroke-width="1.1" />
<text x="311.18" y="294.08" font-size="6.7" text-anchor="middle" fill="#231f20" stroke="#231f20" stroke-width="0.16" textLength="13.86" lengthAdjust="spacingAndGlyphs">2000</text>
<line x1="328.22" y1="283.10" x2="328.22" y2="285.90" stroke="#231f20" stroke-width="1.1" />
<text x="328.22" y="294.08" font-size="6.7" text-anchor="middle" fill="#231f20" stroke="#231f20" stroke-width="0.16" textLength="13.86" lengthAdjust="spacingAndGlyphs">3000</text>
<line x1="345.26" y1="283.10" x2="345.26" y2="285.90" stroke="#231f20" stroke-width="1.1" />
<text x="345.26" y="294.08" font-size="6.7" text-anchor="middle" fill="#231f20" stroke="#231f20" stroke-width="0.16" textLength="13.86" lengthAdjust="spacingAndGlyphs">4000</text>
<line x1="362.30" y1="283.10" x2="362.30" y2="285.90" stroke="#231f20" stroke-width="1.1" />
<text x="362.30" y="294.08" font-size="6.7" text-anchor="middle" fill="#231f20" stroke="#231f20" stroke-width="0.16" textLength="13.86" lengthAdjust="spacingAndGlyphs">5000</text>
<text x="319.60" y="303.39" font-size="8.8" text-anchor="middle" fill="#231f20" stroke="#231f20" stroke-width="0.16" textLength="34.2" lengthAdjust="spacingAndGlyphs">Time (days)</text>
<text transform="translate(250.00,242.55) rotate(-90)" x="0" y="2.72" font-size="8.0" text-anchor="middle" fill="#3a3a3a" stroke="#3a3a3a" stroke-width="0.05" textLength="45.5" lengthAdjust="spacingAndGlyphs">Overall survival</text>
<path d="M277.50,208.20 L277.80,208.20 L277.80,214.50 L278.30,214.50 L278.30,224.30 L279.10,224.30 L279.10,228.00 L279.90,228.00 L279.90,233.50 L281.20,233.50 L281.20,242.00 L282.10,242.00 L282.10,250.50 L282.30,250.50 L282.30,260.70 L283.30,260.70 L283.30,265.80 L284.15,265.80 L284.15,268.75 L285.00,268.75 L285.00,271.70 L289.30,271.70 L289.30,272.20 L290.15,272.20 L290.15,274.10 L291.00,274.10 L291.00,276.00 L353.70,276.00" stroke="#cf2136" stroke-width="1.4" fill="none" stroke-linejoin="miter" />
<path d="M277.80,206.30 L279.00,206.30 L279.00,211.00 L280.00,211.00 L280.00,216.80 L281.20,216.80 L281.20,222.00 L282.40,222.00 L282.40,226.70 L282.50,226.70 L282.50,231.80 L283.30,231.80 L283.30,233.50 L283.80,233.50 L283.80,240.30 L284.60,240.30 L284.60,242.00 L285.00,242.00 L285.00,246.20 L285.85,246.20 L285.85,247.90 L286.70,247.90 L286.70,249.60 L287.55,249.60 L287.55,251.30 L288.40,251.30 L288.40,253.00 L289.30,253.00 L289.30,256.40 L291.00,256.40 L291.00,258.10 L291.85,258.10 L291.85,259.80 L292.70,259.80 L292.70,261.50 L296.10,261.50 L296.10,262.40 L296.90,262.40 L296.90,262.80 L318.10,262.80 L319.00,262.80 L319.00,264.00 L340.20,264.00 L340.20,267.30 L363.30,267.30" stroke="#1c5a96" stroke-width="1.4" fill="none" stroke-linejoin="miter" />
<line x1="304.00" y1="261.30" x2="304.00" y2="264.30" stroke="#1c5a96" stroke-width="0.8" />
<line x1="323.00" y1="262.50" x2="323.00" y2="265.50" stroke="#1c5a96" stroke-width="0.8" />
<line x1="326.00" y1="262.50" x2="326.00" y2="265.50" stroke="#1c5a96" stroke-width="0.8" />
<line x1="329.00" y1="262.50" x2="329.00" y2="265.50" stroke="#1c5a96" stroke-width="0.8" />
<line x1="346.00" y1="265.80" x2="346.00" y2="268.80" stroke="#1c5a96" stroke-width="0.8" />
<line x1="363.00" y1="265.80" x2="363.00" y2="268.80" stroke="#1c5a96" stroke-width="0.8" />
<line x1="312.70" y1="217.20" x2="318.10" y2="217.20" stroke="#1c5a96" stroke-width="1.4" />
<line x1="315.40" y1="216.10" x2="315.40" y2="218.30" stroke="#1c5a96" stroke-width="0.9" />
<text x="320.10" y="218.98" font-size="6.4" text-anchor="start" fill="#231f20" stroke="#231f20" stroke-width="0.16" textLength="24.4" lengthAdjust="spacingAndGlyphs">CD9 low</text>
<line x1="312.70" y1="224.60" x2="318.10" y2="224.60" stroke="#cf2136" stroke-width="1.4" />
<text x="320.10" y="226.38" font-size="6.4" text-anchor="start" fill="#231f20" stroke="#231f20" stroke-width="0.16" textLength="26.9" lengthAdjust="spacingAndGlyphs">CD9 high</text>
<text x="276.70" y="280.68" font-size="7.0" text-anchor="start" fill="#231f20" stroke="#231f20" stroke-width="0.16" textLength="34.6" lengthAdjust="spacingAndGlyphs"><tspan font-style="italic">p</tspan> = 0.00014</text>
<line x1="399.30" y1="204.20" x2="399.30" y2="283.65" stroke="#231f20" stroke-width="1.3" />
<line x1="396.30" y1="207.20" x2="399.30" y2="207.20" stroke="#231f20" stroke-width="1.1" />
<text x="395.10" y="209.31" font-size="6.2" text-anchor="end" fill="#231f20" stroke="#231f20" stroke-width="0.16" textLength="12.2" lengthAdjust="spacingAndGlyphs">1.00</text>
<line x1="396.30" y1="225.52" x2="399.30" y2="225.52" stroke="#231f20" stroke-width="1.1" />
<text x="395.10" y="227.63" font-size="6.2" text-anchor="end" fill="#231f20" stroke="#231f20" stroke-width="0.16" textLength="12.2" lengthAdjust="spacingAndGlyphs">0.75</text>
<line x1="396.30" y1="243.85" x2="399.30" y2="243.85" stroke="#231f20" stroke-width="1.1" />
<text x="395.10" y="245.96" font-size="6.2" text-anchor="end" fill="#231f20" stroke="#231f20" stroke-width="0.16" textLength="12.2" lengthAdjust="spacingAndGlyphs">0.50</text>
<line x1="396.30" y1="262.18" x2="399.30" y2="262.18" stroke="#231f20" stroke-width="1.1" />
<text x="395.10" y="264.28" font-size="6.2" text-anchor="end" fill="#231f20" stroke="#231f20" stroke-width="0.16" textLength="12.2" lengthAdjust="spacingAndGlyphs">0.25</text>
<line x1="396.30" y1="280.50" x2="399.30" y2="280.50" stroke="#231f20" stroke-width="1.1" />
<text x="395.10" y="282.61" font-size="6.2" text-anchor="end" fill="#231f20" stroke="#231f20" stroke-width="0.16" textLength="12.2" lengthAdjust="spacingAndGlyphs">0.00</text>
<line x1="398.65" y1="283.00" x2="514.00" y2="283.00" stroke="#231f20" stroke-width="1.3" />
<line x1="402.70" y1="283.00" x2="402.70" y2="285.80" stroke="#231f20" stroke-width="1.1" />
<text x="402.70" y="293.98" font-size="6.7" text-anchor="middle" fill="#231f20" stroke="#231f20" stroke-width="0.16" textLength="3.47" lengthAdjust="spacingAndGlyphs">0</text>
<line x1="429.20" y1="283.00" x2="429.20" y2="285.80" stroke="#231f20" stroke-width="1.1" />
<text x="429.20" y="293.98" font-size="6.7" text-anchor="middle" fill="#231f20" stroke="#231f20" stroke-width="0.16" textLength="6.93" lengthAdjust="spacingAndGlyphs">10</text>
<line x1="455.70" y1="283.00" x2="455.70" y2="285.80" stroke="#231f20" stroke-width="1.1" />
<text x="455.70" y="293.98" font-size="6.7" text-anchor="middle" fill="#231f20" stroke="#231f20" stroke-width="0.16" textLength="6.93" lengthAdjust="spacingAndGlyphs">20</text>
<line x1="482.20" y1="283.00" x2="482.20" y2="285.80" stroke="#231f20" stroke-width="1.1" />
<text x="482.20" y="293.98" font-size="6.7" text-anchor="middle" fill="#231f20" stroke="#231f20" stroke-width="0.16" textLength="6.93" lengthAdjust="spacingAndGlyphs">30</text>
<line x1="508.70" y1="283.00" x2="508.70" y2="285.80" stroke="#231f20" stroke-width="1.1" />
<text x="508.70" y="293.98" font-size="6.7" text-anchor="middle" fill="#231f20" stroke="#231f20" stroke-width="0.16" textLength="6.93" lengthAdjust="spacingAndGlyphs">40</text>
<text x="455.70" y="303.29" font-size="8.8" text-anchor="middle" fill="#231f20" stroke="#231f20" stroke-width="0.16" textLength="43.3" lengthAdjust="spacingAndGlyphs">Time (months)</text>
<text transform="translate(373.50,243.85) rotate(-90)" x="0" y="2.72" font-size="8.0" text-anchor="middle" fill="#3a3a3a" stroke="#3a3a3a" stroke-width="0.05" textLength="45.5" lengthAdjust="spacingAndGlyphs">Overall survival</text>
<path d="M403.40,208.40 L404.60,208.40 L404.60,210.80 L405.80,210.80 L405.80,213.20 L406.50,213.20 L406.50,216.30 L407.70,216.30 L407.70,217.75 L408.90,217.75 L408.90,219.20 L409.90,219.20 L409.90,222.10 L412.30,222.10 L412.30,230.80 L417.80,230.80 L417.80,234.10 L424.30,234.10 L424.30,240.90 L425.80,240.90 L425.80,246.20 L429.90,246.20 L429.90,250.50 L440.70,250.50 L440.70,254.80 L442.60,254.80 L442.60,258.20 L452.20,258.20 L452.20,263.00 L458.00,263.00 L458.00,275.70 L478.70,275.70 L478.70,279.30" stroke="#cf2136" stroke-width="1.4" fill="none" stroke-linejoin="miter" />
<path d="M402.70,207.70 L403.40,207.70 L403.40,210.80 L404.10,210.80 L404.10,213.20 L404.60,213.20 L404.60,216.30 L405.10,216.30 L405.10,219.20 L413.00,219.20 L414.20,219.20 L414.20,222.10 L416.60,222.10 L416.60,225.20 L419.00,225.20 L419.00,228.80 L425.00,228.80 L425.00,231.25 L430.60,231.25 L430.60,238.00 L452.20,238.00 L452.20,244.50 L469.00,244.50 L469.00,251.70 L484.00,251.70 L484.00,265.40 L514.00,265.40" stroke="#1c5a96" stroke-width="1.4" fill="none" stroke-linejoin="miter" />
<line x1="441.50" y1="236.50" x2="441.50" y2="239.50" stroke="#1c5a96" stroke-width="0.9" />
<line x1="475.50" y1="250.20" x2="475.50" y2="253.20" stroke="#1c5a96" stroke-width="0.9" />
<line x1="409.00" y1="217.70" x2="409.00" y2="220.70" stroke="#1c5a96" stroke-width="0.9" />
<line x1="457.00" y1="216.30" x2="462.40" y2="216.30" stroke="#1c5a96" stroke-width="1.4" />
<line x1="459.70" y1="215.20" x2="459.70" y2="217.40" stroke="#1c5a96" stroke-width="0.9" />
<text x="464.40" y="218.08" font-size="6.4" text-anchor="start" fill="#231f20" stroke="#231f20" stroke-width="0.16" textLength="24.4" lengthAdjust="spacingAndGlyphs">CD9 low</text>
<line x1="457.00" y1="224.00" x2="462.40" y2="224.00" stroke="#cf2136" stroke-width="1.4" />
<text x="464.40" y="225.78" font-size="6.4" text-anchor="start" fill="#231f20" stroke="#231f20" stroke-width="0.16" textLength="26.9" lengthAdjust="spacingAndGlyphs">CD9 high</text>
<text x="399.80" y="280.48" font-size="7.0" text-anchor="start" fill="#231f20" stroke="#231f20" stroke-width="0.16" textLength="28.4" lengthAdjust="spacingAndGlyphs"><tspan font-style="italic">p</tspan> = 0.033</text>
<text x="152.00" y="311.08" font-size="7.0" text-anchor="start" fill="#231f20" stroke="#231f20" stroke-width="0.16" textLength="42.5" lengthAdjust="spacingAndGlyphs">Number at risk</text>
<line x1="150.40" y1="315.00" x2="150.40" y2="330.25" stroke="#231f20" stroke-width="1.3" />
<line x1="147.10" y1="318.60" x2="150.40" y2="318.60" stroke="#231f20" stroke-width="1.1" />
<line x1="147.10" y1="326.20" x2="150.40" y2="326.20" stroke="#231f20" stroke-width="1.1" />
<text x="145.80" y="320.50" font-size="5.6" text-anchor="end" fill="#cf2136" stroke="#cf2136" stroke-width="0.16" textLength="24.8" lengthAdjust="spacingAndGlyphs">CD9–high</text>
<text x="145.80" y="328.10" font-size="5.6" text-anchor="end" fill="#2a6aa8" stroke="#2a6aa8" stroke-width="0.16" textLength="22.5" lengthAdjust="spacingAndGlyphs">CD9–low</text>
<line x1="149.75" y1="329.60" x2="243.00" y2="329.60" stroke="#231f20" stroke-width="1.3" />
<line x1="154.70" y1="329.60" x2="154.70" y2="332.40" stroke="#231f20" stroke-width="1.1" />
<text x="154.70" y="339.88" font-size="6.7" text-anchor="middle" fill="#231f20" stroke="#231f20" stroke-width="0.16" textLength="3.47" lengthAdjust="spacingAndGlyphs">0</text>
<text x="155.20" y="320.61" font-size="7.1" text-anchor="middle" fill="#cf2136" stroke="#cf2136" stroke-width="0.16">25</text>
<text x="155.20" y="328.21" font-size="7.1" text-anchor="middle" fill="#2a6aa8" stroke="#2a6aa8" stroke-width="0.16">90</text>
<line x1="175.45" y1="329.60" x2="175.45" y2="332.40" stroke="#231f20" stroke-width="1.1" />
<text x="175.45" y="339.88" font-size="6.7" text-anchor="middle" fill="#231f20" stroke="#231f20" stroke-width="0.16" textLength="6.93" lengthAdjust="spacingAndGlyphs">50</text>
<text x="175.95" y="320.61" font-size="7.1" text-anchor="middle" fill="#cf2136" stroke="#cf2136" stroke-width="0.16">3</text>
<text x="175.95" y="328.21" font-size="7.1" text-anchor="middle" fill="#2a6aa8" stroke="#2a6aa8" stroke-width="0.16">30</text>
<line x1="196.20" y1="329.60" x2="196.20" y2="332.40" stroke="#231f20" stroke-width="1.1" />
<text x="196.20" y="339.88" font-size="6.7" text-anchor="middle" fill="#231f20" stroke="#231f20" stroke-width="0.16" textLength="10.4" lengthAdjust="spacingAndGlyphs">100</text>
<text x="196.70" y="320.61" font-size="7.1" text-anchor="middle" fill="#cf2136" stroke="#cf2136" stroke-width="0.16">2</text>
<text x="196.70" y="328.21" font-size="7.1" text-anchor="middle" fill="#2a6aa8" stroke="#2a6aa8" stroke-width="0.16">13</text>
<line x1="216.95" y1="329.60" x2="216.95" y2="332.40" stroke="#231f20" stroke-width="1.1" />
<text x="216.95" y="339.88" font-size="6.7" text-anchor="middle" fill="#231f20" stroke="#231f20" stroke-width="0.16" textLength="10.4" lengthAdjust="spacingAndGlyphs">150</text>
<text x="217.45" y="320.61" font-size="7.1" text-anchor="middle" fill="#cf2136" stroke="#cf2136" stroke-width="0.16">0</text>
<text x="217.45" y="328.21" font-size="7.1" text-anchor="middle" fill="#2a6aa8" stroke="#2a6aa8" stroke-width="0.16">3</text>
<line x1="237.70" y1="329.60" x2="237.70" y2="332.40" stroke="#231f20" stroke-width="1.1" />
<text x="237.70" y="339.88" font-size="6.7" text-anchor="middle" fill="#231f20" stroke="#231f20" stroke-width="0.16" textLength="10.4" lengthAdjust="spacingAndGlyphs">200</text>
<text x="238.20" y="320.61" font-size="7.1" text-anchor="middle" fill="#cf2136" stroke="#cf2136" stroke-width="0.16">0</text>
<text x="238.20" y="328.21" font-size="7.1" text-anchor="middle" fill="#2a6aa8" stroke="#2a6aa8" stroke-width="0.16">1</text>
<text x="196.50" y="350.49" font-size="8.8" text-anchor="middle" fill="#231f20" stroke="#231f20" stroke-width="0.16" textLength="42.7" lengthAdjust="spacingAndGlyphs">Time (months)</text>
<text x="275.00" y="311.08" font-size="7.0" text-anchor="start" fill="#231f20" stroke="#231f20" stroke-width="0.16" textLength="42.5" lengthAdjust="spacingAndGlyphs">Number at risk</text>
<line x1="273.50" y1="315.00" x2="273.50" y2="330.25" stroke="#231f20" stroke-width="1.3" />
<line x1="270.20" y1="318.70" x2="273.50" y2="318.70" stroke="#231f20" stroke-width="1.1" />
<line x1="270.20" y1="325.00" x2="273.50" y2="325.00" stroke="#231f20" stroke-width="1.1" />
<text x="269.00" y="320.60" font-size="5.6" text-anchor="end" fill="#cf2136" stroke="#cf2136" stroke-width="0.16" textLength="24.5" lengthAdjust="spacingAndGlyphs">CD9–high</text>
<text x="269.00" y="326.90" font-size="5.6" text-anchor="end" fill="#2a6aa8" stroke="#2a6aa8" stroke-width="0.16" textLength="23.0" lengthAdjust="spacingAndGlyphs">CD9–low</text>
<line x1="272.85" y1="329.60" x2="364.00" y2="329.60" stroke="#231f20" stroke-width="1.3" />
<line x1="277.10" y1="329.60" x2="277.10" y2="332.40" stroke="#231f20" stroke-width="1.1" />
<text x="277.10" y="339.88" font-size="6.7" text-anchor="middle" fill="#231f20" stroke="#231f20" stroke-width="0.16" textLength="3.47" lengthAdjust="spacingAndGlyphs">0</text>
<text x="277.60" y="320.71" font-size="7.1" text-anchor="middle" fill="#cf2136" stroke="#cf2136" stroke-width="0.16">43</text>
<text x="277.60" y="327.01" font-size="7.1" text-anchor="middle" fill="#2a6aa8" stroke="#2a6aa8" stroke-width="0.16">57</text>
<line x1="294.14" y1="329.60" x2="294.14" y2="332.40" stroke="#231f20" stroke-width="1.1" />
<text x="294.14" y="339.88" font-size="6.7" text-anchor="middle" fill="#231f20" stroke="#231f20" stroke-width="0.16" textLength="13.86" lengthAdjust="spacingAndGlyphs">1000</text>
<text x="294.64" y="320.71" font-size="7.1" text-anchor="middle" fill="#cf2136" stroke="#cf2136" stroke-width="0.16">2</text>
<text x="294.64" y="327.01" font-size="7.1" text-anchor="middle" fill="#2a6aa8" stroke="#2a6aa8" stroke-width="0.16">13</text>
<line x1="311.18" y1="329.60" x2="311.18" y2="332.40" stroke="#231f20" stroke-width="1.1" />
<text x="311.18" y="339.88" font-size="6.7" text-anchor="middle" fill="#231f20" stroke="#231f20" stroke-width="0.16" textLength="13.86" lengthAdjust="spacingAndGlyphs">2000</text>
<text x="311.68" y="320.71" font-size="7.1" text-anchor="middle" fill="#cf2136" stroke="#cf2136" stroke-width="0.16">1</text>
<text x="311.68" y="327.01" font-size="7.1" text-anchor="middle" fill="#2a6aa8" stroke="#2a6aa8" stroke-width="0.16">11</text>
<line x1="328.22" y1="329.60" x2="328.22" y2="332.40" stroke="#231f20" stroke-width="1.1" />
<text x="328.22" y="339.88" font-size="6.7" text-anchor="middle" fill="#231f20" stroke="#231f20" stroke-width="0.16" textLength="13.86" lengthAdjust="spacingAndGlyphs">3000</text>
<text x="328.72" y="320.71" font-size="7.1" text-anchor="middle" fill="#cf2136" stroke="#cf2136" stroke-width="0.16">1</text>
<text x="328.72" y="327.01" font-size="7.1" text-anchor="middle" fill="#2a6aa8" stroke="#2a6aa8" stroke-width="0.16">7</text>
<line x1="345.26" y1="329.60" x2="345.26" y2="332.40" stroke="#231f20" stroke-width="1.1" />
<text x="345.26" y="339.88" font-size="6.7" text-anchor="middle" fill="#231f20" stroke="#231f20" stroke-width="0.16" textLength="13.86" lengthAdjust="spacingAndGlyphs">4000</text>
<text x="345.76" y="320.71" font-size="7.1" text-anchor="middle" fill="#cf2136" stroke="#cf2136" stroke-width="0.16">1</text>
<text x="345.76" y="327.01" font-size="7.1" text-anchor="middle" fill="#2a6aa8" stroke="#2a6aa8" stroke-width="0.16">3</text>
<line x1="362.30" y1="329.60" x2="362.30" y2="332.40" stroke="#231f20" stroke-width="1.1" />
<text x="362.30" y="339.88" font-size="6.7" text-anchor="middle" fill="#231f20" stroke="#231f20" stroke-width="0.16" textLength="13.86" lengthAdjust="spacingAndGlyphs">5000</text>
<text x="362.80" y="320.71" font-size="7.1" text-anchor="middle" fill="#cf2136" stroke="#cf2136" stroke-width="0.16">0</text>
<text x="362.80" y="327.01" font-size="7.1" text-anchor="middle" fill="#2a6aa8" stroke="#2a6aa8" stroke-width="0.16">1</text>
<text x="319.60" y="350.49" font-size="8.8" text-anchor="middle" fill="#231f20" stroke="#231f20" stroke-width="0.16" textLength="34.2" lengthAdjust="spacingAndGlyphs">Time (days)</text>
<text x="398.50" y="311.08" font-size="7.0" text-anchor="start" fill="#231f20" stroke="#231f20" stroke-width="0.16" textLength="42.5" lengthAdjust="spacingAndGlyphs">Number at risk</text>
<line x1="398.30" y1="315.00" x2="398.30" y2="330.95" stroke="#231f20" stroke-width="1.3" />
<line x1="395.00" y1="319.40" x2="398.30" y2="319.40" stroke="#231f20" stroke-width="1.1" />
<line x1="395.00" y1="326.30" x2="398.30" y2="326.30" stroke="#231f20" stroke-width="1.1" />
<text x="393.00" y="321.30" font-size="5.6" text-anchor="end" fill="#cf2136" stroke="#cf2136" stroke-width="0.16" textLength="25.3" lengthAdjust="spacingAndGlyphs">CD9–high</text>
<text x="393.00" y="328.20" font-size="5.6" text-anchor="end" fill="#2a6aa8" stroke="#2a6aa8" stroke-width="0.16" textLength="23.0" lengthAdjust="spacingAndGlyphs">CD9–low</text>
<line x1="397.65" y1="330.30" x2="514.00" y2="330.30" stroke="#231f20" stroke-width="1.3" />
<line x1="402.70" y1="330.30" x2="402.70" y2="333.10" stroke="#231f20" stroke-width="1.1" />
<text x="402.70" y="340.58" font-size="6.7" text-anchor="middle" fill="#231f20" stroke="#231f20" stroke-width="0.16" textLength="3.47" lengthAdjust="spacingAndGlyphs">0</text>
<text x="403.20" y="321.41" font-size="7.1" text-anchor="middle" fill="#cf2136" stroke="#cf2136" stroke-width="0.16">22</text>
<text x="403.20" y="328.31" font-size="7.1" text-anchor="middle" fill="#2a6aa8" stroke="#2a6aa8" stroke-width="0.16">23</text>
<line x1="429.20" y1="330.30" x2="429.20" y2="333.10" stroke="#231f20" stroke-width="1.1" />
<text x="429.20" y="340.58" font-size="6.7" text-anchor="middle" fill="#231f20" stroke="#231f20" stroke-width="0.16" textLength="6.93" lengthAdjust="spacingAndGlyphs">10</text>
<text x="429.70" y="321.41" font-size="7.1" text-anchor="middle" fill="#cf2136" stroke="#cf2136" stroke-width="0.16">8</text>
<text x="429.70" y="328.31" font-size="7.1" text-anchor="middle" fill="#2a6aa8" stroke="#2a6aa8" stroke-width="0.16">11</text>
<line x1="455.70" y1="330.30" x2="455.70" y2="333.10" stroke="#231f20" stroke-width="1.1" />
<text x="455.70" y="340.58" font-size="6.7" text-anchor="middle" fill="#231f20" stroke="#231f20" stroke-width="0.16" textLength="6.93" lengthAdjust="spacingAndGlyphs">20</text>
<text x="456.20" y="321.41" font-size="7.1" text-anchor="middle" fill="#cf2136" stroke="#cf2136" stroke-width="0.16">4</text>
<text x="456.20" y="328.31" font-size="7.1" text-anchor="middle" fill="#2a6aa8" stroke="#2a6aa8" stroke-width="0.16">5</text>
<line x1="482.20" y1="330.30" x2="482.20" y2="333.10" stroke="#231f20" stroke-width="1.1" />
<text x="482.20" y="340.58" font-size="6.7" text-anchor="middle" fill="#231f20" stroke="#231f20" stroke-width="0.16" textLength="6.93" lengthAdjust="spacingAndGlyphs">30</text>
<text x="482.70" y="321.41" font-size="7.1" text-anchor="middle" fill="#cf2136" stroke="#cf2136" stroke-width="0.16">0</text>
<text x="482.70" y="328.31" font-size="7.1" text-anchor="middle" fill="#2a6aa8" stroke="#2a6aa8" stroke-width="0.16">3</text>
<line x1="508.70" y1="330.30" x2="508.70" y2="333.10" stroke="#231f20" stroke-width="1.1" />
<text x="508.70" y="340.58" font-size="6.7" text-anchor="middle" fill="#231f20" stroke="#231f20" stroke-width="0.16" textLength="6.93" lengthAdjust="spacingAndGlyphs">40</text>
<text x="509.20" y="321.41" font-size="7.1" text-anchor="middle" fill="#cf2136" stroke="#cf2136" stroke-width="0.16">0</text>
<text x="509.20" y="328.31" font-size="7.1" text-anchor="middle" fill="#2a6aa8" stroke="#2a6aa8" stroke-width="0.16">1</text>
<text x="455.70" y="351.19" font-size="8.8" text-anchor="middle" fill="#231f20" stroke="#231f20" stroke-width="0.16" textLength="43.3" lengthAdjust="spacingAndGlyphs">Time (months)</text>
<text x="6.90" y="369.58" font-size="12.0" text-anchor="start" fill="#000" stroke="#000" stroke-width="0.1" font-weight="bold" textLength="7.699999999999999" lengthAdjust="spacingAndGlyphs">D</text>
<text x="52.60" y="376.69" font-size="8.8" text-anchor="start" fill="#231f20" stroke="#231f20" stroke-width="0.16" textLength="80.8" lengthAdjust="spacingAndGlyphs">STAT5B ChIP HPC<tspan font-size="5.8" dy="-3.0">LSK</tspan></text>
<line x1="41.70" y1="385.40" x2="41.70" y2="476.65" stroke="#231f20" stroke-width="1.3" />
<line x1="38.80" y1="386.00" x2="41.70" y2="386.00" stroke="#231f20" stroke-width="1.1" />
<text x="37.80" y="388.52" font-size="7.4" text-anchor="end" fill="#231f20" stroke="#231f20" stroke-width="0.16" textLength="10.7" lengthAdjust="spacingAndGlyphs">0.6</text>
<line x1="38.80" y1="416.00" x2="41.70" y2="416.00" stroke="#231f20" stroke-width="1.1" />
<text x="37.80" y="418.52" font-size="7.4" text-anchor="end" fill="#231f20" stroke="#231f20" stroke-width="0.16" textLength="10.7" lengthAdjust="spacingAndGlyphs">0.4</text>
<line x1="38.80" y1="446.00" x2="41.70" y2="446.00" stroke="#231f20" stroke-width="1.1" />
<text x="37.80" y="448.52" font-size="7.4" text-anchor="end" fill="#231f20" stroke="#231f20" stroke-width="0.16" textLength="10.7" lengthAdjust="spacingAndGlyphs">0.2</text>
<line x1="38.80" y1="476.00" x2="41.70" y2="476.00" stroke="#231f20" stroke-width="1.1" />
<text x="37.80" y="478.52" font-size="7.4" text-anchor="end" fill="#231f20" stroke="#231f20" stroke-width="0.16" textLength="10.7" lengthAdjust="spacingAndGlyphs">0.0</text>
<line x1="41.05" y1="476.00" x2="146.50" y2="476.00" stroke="#231f20" stroke-width="1.3" />
<line x1="57.70" y1="476.00" x2="57.70" y2="479.00" stroke="#231f20" stroke-width="1.1" />
<line x1="93.50" y1="476.00" x2="93.50" y2="479.00" stroke="#231f20" stroke-width="1.1" />
<line x1="130.40" y1="476.00" x2="130.40" y2="479.00" stroke="#231f20" stroke-width="1.1" />
<rect x="47.10" y="465.00" width="8.70" height="11.00" fill="#1c5a96" />
<rect x="60.60" y="420.20" width="8.60" height="55.80" fill="#cf2136" />
<circle cx="64.80" cy="398.00" r="1.8" fill="#cf2136" stroke="#231f20" stroke-width="0.85"/>
<circle cx="64.80" cy="415.80" r="1.8" fill="#cf2136" stroke="#231f20" stroke-width="0.85"/>
<circle cx="64.80" cy="447.00" r="1.8" fill="#cf2136" stroke="#231f20" stroke-width="0.85"/>
<circle cx="51.00" cy="457.70" r="1.8" fill="#1c5a96" stroke="#231f20" stroke-width="0.85"/>
<circle cx="48.50" cy="468.30" r="1.8" fill="#1c5a96" stroke="#231f20" stroke-width="0.85"/>
<circle cx="53.80" cy="468.30" r="1.8" fill="#1c5a96" stroke="#231f20" stroke-width="0.85"/>
<line x1="64.90" y1="406.00" x2="64.90" y2="435.00" stroke="#231f20" stroke-width="1.3" />
<line x1="62.80" y1="406.00" x2="67.00" y2="406.00" stroke="#231f20" stroke-width="1.3" />
<line x1="62.80" y1="435.00" x2="67.00" y2="435.00" stroke="#231f20" stroke-width="1.3" />
<line x1="51.40" y1="461.30" x2="51.40" y2="466.00" stroke="#231f20" stroke-width="1.3" />
<line x1="49.30" y1="461.30" x2="53.50" y2="461.30" stroke="#231f20" stroke-width="1.3" />
<rect x="84.00" y="474.00" width="7.50" height="2.00" fill="#1c5a96" />
<circle cx="85.60" cy="474.70" r="1.6" fill="#1c5a96" stroke="#231f20" stroke-width="0.8"/>
<circle cx="88.00" cy="473.70" r="1.6" fill="#1c5a96" stroke="#231f20" stroke-width="0.8"/>
<circle cx="90.40" cy="474.70" r="1.6" fill="#1c5a96" stroke="#231f20" stroke-width="0.8"/>
<rect x="98.50" y="474.00" width="7.50" height="2.00" fill="#cf2136" />
<circle cx="100.10" cy="474.70" r="1.6" fill="#cf2136" stroke="#231f20" stroke-width="0.8"/>
<circle cx="102.50" cy="473.70" r="1.6" fill="#cf2136" stroke="#231f20" stroke-width="0.8"/>
<circle cx="104.90" cy="474.70" r="1.6" fill="#cf2136" stroke="#231f20" stroke-width="0.8"/>
<rect x="120.50" y="474.00" width="7.50" height="2.00" fill="#1c5a96" />
<circle cx="122.10" cy="474.70" r="1.6" fill="#1c5a96" stroke="#231f20" stroke-width="0.8"/>
<circle cx="124.50" cy="473.70" r="1.6" fill="#1c5a96" stroke="#231f20" stroke-width="0.8"/>
<circle cx="126.90" cy="474.70" r="1.6" fill="#1c5a96" stroke="#231f20" stroke-width="0.8"/>
<rect x="134.50" y="474.00" width="7.50" height="2.00" fill="#cf2136" />
<circle cx="136.10" cy="474.70" r="1.6" fill="#cf2136" stroke="#231f20" stroke-width="0.8"/>
<circle cx="138.50" cy="473.70" r="1.6" fill="#cf2136" stroke="#231f20" stroke-width="0.8"/>
<circle cx="140.90" cy="474.70" r="1.6" fill="#cf2136" stroke="#231f20" stroke-width="0.8"/>
<path d="M59.40,386.60 L59.40,384.70 M59.40,386.60 L61.21,386.01 M59.40,386.60 L60.52,388.14 M59.40,386.60 L58.28,388.14 M59.40,386.60 L57.59,386.01 " stroke="#231f20" stroke-width="0.85" stroke-linecap="round" fill="none"/>
<line x1="53.30" y1="390.00" x2="65.20" y2="390.00" stroke="#231f20" stroke-width="1.3" />
<circle cx="99.20" cy="403.30" r="1.9" fill="#1c5a96" stroke="#231f20" stroke-width="0.85"/>
<text x="104.80" y="405.82" font-size="7.4" text-anchor="start" fill="#231f20" stroke="#231f20" stroke-width="0.16" textLength="6.9" lengthAdjust="spacingAndGlyphs">us</text>
<circle cx="99.20" cy="414.80" r="1.9" fill="#cf2136" stroke="#231f20" stroke-width="0.85"/>
<text x="105.00" y="417.02" font-size="8.0" text-anchor="start" fill="#231f20" stroke="#231f20" stroke-width="0.16" textLength="19.6" lengthAdjust="spacingAndGlyphs">+TPO</text>
<text transform="translate(19.00,430.80) rotate(-90)" x="0" y="2.92" font-size="8.6" text-anchor="middle" fill="#3a3a3a" stroke="#3a3a3a" stroke-width="0.05" textLength="26.4" lengthAdjust="spacingAndGlyphs">% input</text>
<text transform="translate(59.60,488.6) rotate(-20)" x="0" y="0" font-size="7.6" text-anchor="end" fill="#231f20" stroke="#231f20" stroke-width="0.16" textLength="33.0" lengthAdjust="spacingAndGlyphs"><tspan font-style="italic">Cd9</tspan> prom</text>
<text transform="translate(95.40,488.6) rotate(-20)" x="0" y="0" font-size="7.6" text-anchor="end" fill="#231f20" stroke="#231f20" stroke-width="0.16" textLength="33.5" lengthAdjust="spacingAndGlyphs"><tspan font-style="italic">Cd9</tspan> neg1</text>
<text transform="translate(132.30,488.6) rotate(-20)" x="0" y="0" font-size="7.6" text-anchor="end" fill="#231f20" stroke="#231f20" stroke-width="0.16" textLength="33.5" lengthAdjust="spacingAndGlyphs"><tspan font-style="italic">Cd9</tspan> neg2</text>
<text x="183.00" y="369.48" font-size="12.0" text-anchor="start" fill="#000" stroke="#000" stroke-width="0.1" font-weight="bold" textLength="6.0" lengthAdjust="spacingAndGlyphs">E</text>
<text x="281.50" y="395.39" font-size="8.2" text-anchor="middle" fill="#231f20" stroke="#231f20" stroke-width="0.16" textLength="74.5" lengthAdjust="spacingAndGlyphs">TPO treatment LSK</text>
<line x1="195.00" y1="405.00" x2="195.00" y2="476.10" stroke="#231f20" stroke-width="1.5" />
<path d="M195.0,400.8 L191.9,406.2 L198.1,406.2 Z" fill="#231f20"/>
<line x1="194.25" y1="475.40" x2="364.50" y2="475.40" stroke="#231f20" stroke-width="1.5" />
<path d="M369.6,475.4 L364.2,472.3 L364.2,478.5 Z" fill="#231f20"/>
<rect x="225.4" y="443.0" width="0.6" height="0.6" fill="#9aa0c8"/>
<rect x="231.8" y="445.8" width="0.6" height="0.6" fill="#9aa0c8"/>
<rect x="244.0" y="421.0" width="0.6" height="0.6" fill="#9aa0c8"/>
<rect x="214.6" y="456.5" width="0.6" height="0.6" fill="#9aa0c8"/>
<rect x="226.4" y="428.8" width="0.6" height="0.6" fill="#9aa0c8"/>
<rect x="261.8" y="439.6" width="0.6" height="0.6" fill="#9aa0c8"/>
<rect x="254.2" y="439.9" width="0.6" height="0.6" fill="#9aa0c8"/>
<rect x="244.7" y="424.9" width="0.6" height="0.6" fill="#9aa0c8"/>
<rect x="244.5" y="457.9" width="0.6" height="0.6" fill="#9aa0c8"/>
<rect x="239.1" y="452.1" width="0.6" height="0.6" fill="#9aa0c8"/>
<rect x="246.2" y="420.9" width="0.6" height="0.6" fill="#9aa0c8"/>
<rect x="250.4" y="445.2" width="0.6" height="0.6" fill="#9aa0c8"/>
<rect x="228.5" y="419.4" width="0.6" height="0.6" fill="#9aa0c8"/>
<rect x="255.5" y="439.7" width="0.6" height="0.6" fill="#9aa0c8"/>
<rect x="248.5" y="458.4" width="0.6" height="0.6" fill="#9aa0c8"/>
<rect x="248.3" y="460.4" width="0.6" height="0.6" fill="#9aa0c8"/>
<rect x="233.0" y="454.8" width="0.6" height="0.6" fill="#9aa0c8"/>
<rect x="235.3" y="461.0" width="0.6" height="0.6" fill="#9aa0c8"/>
<rect x="256.2" y="422.5" width="0.6" height="0.6" fill="#9aa0c8"/>
<rect x="220.5" y="428.0" width="0.6" height="0.6" fill="#9aa0c8"/>
<rect x="260.3" y="438.1" width="0.6" height="0.6" fill="#9aa0c8"/>
<rect x="244.1" y="431.8" width="0.6" height="0.6" fill="#9aa0c8"/>
<rect x="238.3" y="435.7" width="0.6" height="0.6" fill="#9aa0c8"/>
<rect x="230.8" y="444.9" width="0.6" height="0.6" fill="#9aa0c8"/>
<rect x="242.0" y="459.6" width="0.6" height="0.6" fill="#9aa0c8"/>
<rect x="246.7" y="460.7" width="0.6" height="0.6" fill="#9aa0c8"/>
<path d="M222.50,429.00 C222.42,427.58 222.58,425.50 224.00,424.50 C225.42,423.50 228.33,423.08 231.00,423.00 C233.67,422.92 237.50,423.50 240.00,424.00 C242.50,424.50 244.75,425.17 246.00,426.00 C247.25,426.83 247.83,427.92 247.50,429.00 C247.17,430.08 245.58,431.67 244.00,432.50 C242.42,433.33 240.33,433.67 238.00,434.00 C235.67,434.33 232.25,434.67 230.00,434.50 C227.75,434.33 225.75,433.92 224.50,433.00 C223.25,432.08 222.58,430.42 222.50,429.00 Z" fill="none" stroke="#9a9fe2" stroke-width="0.55"/>
<path d="M224.00,429.00 C224.05,427.95 224.17,426.28 225.50,425.50 C226.83,424.72 229.75,424.33 232.00,424.30 C234.25,424.27 236.92,424.72 239.00,425.30 C241.08,425.88 243.92,426.85 244.50,427.80 C245.08,428.75 243.92,430.17 242.50,431.00 C241.08,431.83 238.25,432.47 236.00,432.80 C233.75,433.13 230.80,433.17 229.00,433.00 C227.20,432.83 226.03,432.47 225.20,431.80 C224.37,431.13 223.95,430.05 224.00,429.00 Z" fill="none" stroke="#9a9fe2" stroke-width="0.55"/>
<path d="M225.50,429.00 C225.50,428.17 226.08,427.00 227.00,426.50 C227.92,426.00 229.58,426.00 231.00,426.00 C232.42,426.00 234.25,426.08 235.50,426.50 C236.75,426.92 238.25,427.75 238.50,428.50 C238.75,429.25 238.08,430.42 237.00,431.00 C235.92,431.58 233.67,431.92 232.00,432.00 C230.33,432.08 228.08,432.00 227.00,431.50 C225.92,431.00 225.50,429.83 225.50,429.00 Z" fill="#c2e6f3" stroke="#8fc9ec" stroke-width="0.4"/>
<path d="M227.22,428.92 C227.22,428.42 227.57,427.72 228.12,427.42 C228.67,427.12 229.67,427.12 230.52,427.12 C231.37,427.12 232.47,427.17 233.22,427.42 C233.97,427.67 234.87,428.17 235.02,428.62 C235.17,429.07 234.77,429.77 234.12,430.12 C233.47,430.47 232.12,430.67 231.12,430.72 C230.12,430.77 228.77,430.72 228.12,430.42 C227.47,430.12 227.22,429.42 227.22,428.92 Z" fill="#9fdcee" stroke="none"/>
<path d="M228,433.5 C226.5,437 227,440.5 230,442 C234,443 239,442.5 242,440.5 C245,438 246.5,435 246,432 M231,436 C233,438.5 237,438.5 239.5,436.5 M224,441 C222.5,443 223,445 225,446" fill="none" stroke="#a3a8e4" stroke-width="0.55"/>
<path d="M226.44,451.62 C227.25,450.13 228.54,448.42 230.13,447.58 C231.72,446.75 233.71,447.09 235.98,446.60 C238.24,446.11 241.58,444.80 243.72,444.66 C245.86,444.52 246.81,445.61 248.82,445.76 C250.83,445.92 254.00,445.20 255.77,445.59 C257.54,445.99 259.83,446.91 259.43,448.13 C259.04,449.35 255.10,451.53 253.41,452.91 C251.73,454.29 251.20,455.32 249.31,456.43 C247.43,457.53 244.69,458.86 242.11,459.54 C239.53,460.21 236.21,460.33 233.83,460.47 C231.44,460.62 229.21,461.09 227.79,460.42 C226.37,459.76 225.52,457.97 225.29,456.51 C225.07,455.04 225.63,453.11 226.44,451.62 Z" fill="none" stroke="#a7a3e6" stroke-width="0.55"/>
<path d="M226.71,451.68 C227.57,450.23 228.82,448.74 230.36,447.83 C231.91,446.92 233.96,446.48 235.97,446.23 C237.97,445.98 239.95,446.59 242.38,446.32 C244.82,446.05 248.29,444.76 250.58,444.62 C252.87,444.47 255.01,444.77 256.10,445.45 C257.20,446.13 257.72,447.45 257.18,448.70 C256.64,449.95 254.30,451.68 252.87,452.95 C251.43,454.21 250.47,455.29 248.57,456.29 C246.67,457.29 243.92,458.24 241.46,458.94 C239.01,459.63 236.21,460.14 233.83,460.46 C231.45,460.79 228.61,461.55 227.17,460.89 C225.74,460.24 225.28,458.06 225.20,456.53 C225.12,454.99 225.84,453.13 226.71,451.68 Z" fill="none" stroke="#8f95de" stroke-width="0.55"/>
<path d="M227.44,451.86 C227.91,450.53 229.09,448.94 230.51,447.98 C231.93,447.02 233.98,446.37 235.96,446.09 C237.95,445.81 240.25,446.35 242.42,446.28 C244.58,446.21 247.01,445.67 248.97,445.67 C250.92,445.67 253.29,445.66 254.14,446.29 C255.00,446.93 254.23,448.37 254.09,449.48 C253.95,450.58 254.29,451.79 253.31,452.92 C252.33,454.04 250.13,455.18 248.20,456.22 C246.27,457.26 244.08,458.56 241.72,459.17 C239.36,459.79 236.20,459.82 234.04,459.90 C231.88,459.99 229.82,460.34 228.76,459.68 C227.70,459.03 227.87,457.27 227.65,455.97 C227.43,454.66 226.96,453.19 227.44,451.86 Z" fill="none" stroke="#7f9ae0" stroke-width="0.55"/>
<path d="M227.80,451.95 C228.25,450.66 229.29,448.99 230.66,448.14 C232.02,447.29 234.15,447.01 235.99,446.85 C237.83,446.68 239.86,447.15 241.70,447.17 C243.55,447.18 245.24,446.95 247.05,446.92 C248.85,446.89 251.43,446.54 252.53,446.99 C253.62,447.43 253.45,448.61 253.62,449.60 C253.80,450.58 254.56,451.81 253.59,452.90 C252.61,453.99 249.85,455.17 247.79,456.15 C245.74,457.12 243.57,458.05 241.25,458.74 C238.94,459.42 236.03,460.07 233.90,460.26 C231.78,460.45 229.52,460.59 228.52,459.87 C227.53,459.14 228.06,457.22 227.94,455.90 C227.82,454.58 227.35,453.24 227.80,451.95 Z" fill="none" stroke="#86b4e8" stroke-width="0.55"/>
<path d="M227.79,451.95 C228.42,450.71 229.73,449.40 231.10,448.61 C232.47,447.81 234.18,447.49 236.00,447.19 C237.82,446.88 239.96,446.97 242.01,446.78 C244.07,446.60 246.58,446.05 248.34,446.08 C250.10,446.11 251.62,446.40 252.55,446.98 C253.48,447.55 254.09,448.51 253.93,449.52 C253.77,450.53 252.76,451.95 251.60,453.03 C250.44,454.10 248.70,455.06 246.95,455.99 C245.21,456.92 243.30,457.93 241.13,458.63 C238.96,459.32 235.94,460.04 233.94,460.18 C231.93,460.31 230.21,460.11 229.11,459.42 C228.01,458.73 227.56,457.28 227.34,456.04 C227.12,454.79 227.16,453.19 227.79,451.95 Z" fill="#a9ddf0" stroke="none"/>
<path d="M228.67,452.16 C229.16,451.12 230.62,450.10 231.85,449.40 C233.07,448.69 234.39,448.29 236.02,447.94 C237.64,447.59 239.93,447.36 241.59,447.30 C243.26,447.25 244.45,447.54 246.00,447.60 C247.56,447.67 250.05,447.25 250.90,447.69 C251.74,448.13 251.37,449.33 251.05,450.25 C250.73,451.16 249.94,452.29 248.97,453.19 C248.00,454.10 246.64,454.86 245.23,455.67 C243.83,456.48 242.32,457.52 240.51,458.05 C238.71,458.57 236.21,458.70 234.43,458.83 C232.65,458.97 230.75,459.39 229.83,458.87 C228.91,458.34 229.11,456.79 228.92,455.67 C228.72,454.56 228.18,453.21 228.67,452.16 Z" fill="#86d3d8" stroke="none"/>
<path d="M230.74,452.67 C231.19,451.81 231.79,450.88 232.68,450.27 C233.56,449.66 234.81,449.21 236.05,449.02 C237.29,448.83 238.57,449.30 240.12,449.13 C241.68,448.96 243.96,448.09 245.38,448.01 C246.81,447.93 247.96,448.21 248.66,448.65 C249.36,449.08 249.77,449.85 249.58,450.62 C249.38,451.39 248.36,452.47 247.51,453.28 C246.65,454.10 245.77,454.89 244.43,455.52 C243.10,456.16 241.14,456.61 239.50,457.09 C237.86,457.57 235.98,458.27 234.59,458.40 C233.19,458.53 231.91,458.36 231.14,457.87 C230.36,457.37 230.01,456.30 229.95,455.44 C229.88,454.57 230.28,453.53 230.74,452.67 Z" fill="#7cc86a" stroke="none"/>
<path d="M231.96,452.97 C232.26,452.38 233.10,451.80 233.79,451.45 C234.48,451.10 235.21,451.04 236.11,450.85 C237.00,450.66 238.19,450.43 239.15,450.33 C240.12,450.23 240.95,450.28 241.92,450.27 C242.88,450.25 244.35,450.01 244.96,450.24 C245.57,450.47 245.62,451.10 245.56,451.63 C245.50,452.17 245.29,452.91 244.62,453.47 C243.94,454.03 242.50,454.50 241.52,454.98 C240.54,455.47 239.81,456.04 238.74,456.38 C237.67,456.73 236.15,456.95 235.09,457.04 C234.03,457.12 232.90,457.26 232.39,456.91 C231.87,456.57 232.06,455.63 231.99,454.97 C231.92,454.31 231.66,453.55 231.96,452.97 Z" fill="#a6d458" stroke="none"/>
<path d="M233.93,453.45 C234.14,453.07 234.30,452.60 234.66,452.38 C235.03,452.16 235.59,452.24 236.14,452.13 C236.70,452.03 237.42,451.82 238.02,451.74 C238.62,451.67 239.30,451.63 239.75,451.69 C240.19,451.74 240.47,451.89 240.69,452.07 C240.92,452.25 241.03,452.49 241.10,452.76 C241.18,453.03 241.45,453.39 241.14,453.69 C240.83,453.99 239.81,454.28 239.24,454.56 C238.66,454.85 238.32,455.19 237.70,455.41 C237.08,455.62 236.13,455.80 235.52,455.84 C234.91,455.88 234.39,455.85 234.04,455.65 C233.69,455.45 233.44,455.01 233.42,454.64 C233.41,454.27 233.72,453.82 233.93,453.45 Z" fill="#d6e07a" stroke="none"/>
<path d="M234.85,453.67 C234.94,453.44 235.02,453.13 235.24,452.98 C235.46,452.83 235.83,452.82 236.16,452.77 C236.50,452.72 236.90,452.71 237.26,452.68 C237.62,452.66 237.99,452.62 238.31,452.62 C238.63,452.63 239.05,452.62 239.16,452.73 C239.27,452.84 238.99,453.12 238.95,453.30 C238.92,453.49 239.11,453.66 238.95,453.83 C238.78,454.00 238.27,454.16 237.95,454.32 C237.64,454.49 237.40,454.68 237.05,454.80 C236.70,454.91 236.18,454.98 235.83,455.01 C235.48,455.03 235.15,455.06 234.96,454.95 C234.78,454.83 234.73,454.56 234.71,454.34 C234.69,454.13 234.76,453.90 234.85,453.67 Z" fill="#f09a6a" stroke="none"/>
<path d="M235.37,453.80 C235.45,453.67 235.56,453.55 235.69,453.47 C235.83,453.38 236.00,453.31 236.18,453.29 C236.36,453.26 236.56,453.32 236.76,453.31 C236.96,453.30 237.21,453.23 237.38,453.23 C237.55,453.23 237.69,453.26 237.78,453.32 C237.88,453.37 237.93,453.46 237.95,453.56 C237.97,453.65 238.04,453.79 237.91,453.89 C237.79,454.00 237.41,454.09 237.20,454.19 C237.00,454.28 236.88,454.38 236.68,454.45 C236.47,454.51 236.19,454.56 235.99,454.57 C235.79,454.59 235.62,454.59 235.50,454.54 C235.38,454.48 235.27,454.34 235.25,454.22 C235.23,454.10 235.30,453.92 235.37,453.80 Z" fill="#e8402e" stroke="none"/>
<path d="M228,459.8 C233,461.2 244,459.5 253,453.5" fill="none" stroke="#2b3aa8" stroke-width="0.7"/>
<rect x="199.40" y="400.20" width="79.40" height="70.90" fill="none" stroke="#231f20" stroke-width="1.4" />
<rect x="211.40" y="414.80" width="50.20" height="26.70" fill="none" stroke="#231f20" stroke-width="1.25" />
<text x="203.80" y="409.69" font-size="8.8" text-anchor="start" fill="#231f20" stroke="#231f20" stroke-width="0.16" textLength="43.2" lengthAdjust="spacingAndGlyphs">CD9<tspan font-size="5.8" dy="-2.8">+</tspan><tspan dy="2.8">: 19%</tspan></text>
<text x="204.00" y="469.19" font-size="8.8" text-anchor="start" fill="#231f20" stroke="#231f20" stroke-width="0.16" textLength="32.2" lengthAdjust="spacingAndGlyphs">us (96 h)</text>
<rect x="314.8" y="423.5" width="0.6" height="0.6" fill="#9aa0c8"/>
<rect x="331.8" y="419.6" width="0.6" height="0.6" fill="#9aa0c8"/>
<rect x="325.9" y="434.3" width="0.6" height="0.6" fill="#9aa0c8"/>
<rect x="301.0" y="441.4" width="0.6" height="0.6" fill="#9aa0c8"/>
<rect x="299.9" y="437.7" width="0.6" height="0.6" fill="#9aa0c8"/>
<rect x="301.6" y="420.5" width="0.6" height="0.6" fill="#9aa0c8"/>
<rect x="320.1" y="457.3" width="0.6" height="0.6" fill="#9aa0c8"/>
<rect x="304.4" y="427.2" width="0.6" height="0.6" fill="#9aa0c8"/>
<rect x="330.6" y="463.4" width="0.6" height="0.6" fill="#9aa0c8"/>
<rect x="328.0" y="435.8" width="0.6" height="0.6" fill="#9aa0c8"/>
<rect x="348.8" y="418.3" width="0.6" height="0.6" fill="#9aa0c8"/>
<rect x="342.6" y="430.5" width="0.6" height="0.6" fill="#9aa0c8"/>
<rect x="305.5" y="421.9" width="0.6" height="0.6" fill="#9aa0c8"/>
<rect x="314.0" y="456.8" width="0.6" height="0.6" fill="#9aa0c8"/>
<rect x="307.4" y="445.1" width="0.6" height="0.6" fill="#9aa0c8"/>
<rect x="331.2" y="434.6" width="0.6" height="0.6" fill="#9aa0c8"/>
<rect x="326.5" y="419.1" width="0.6" height="0.6" fill="#9aa0c8"/>
<rect x="301.1" y="426.3" width="0.6" height="0.6" fill="#9aa0c8"/>
<rect x="333.4" y="437.4" width="0.6" height="0.6" fill="#9aa0c8"/>
<rect x="314.3" y="445.3" width="0.6" height="0.6" fill="#9aa0c8"/>
<rect x="321.6" y="431.0" width="0.6" height="0.6" fill="#9aa0c8"/>
<rect x="339.3" y="450.9" width="0.6" height="0.6" fill="#9aa0c8"/>
<rect x="310.7" y="444.7" width="0.6" height="0.6" fill="#9aa0c8"/>
<rect x="325.3" y="459.8" width="0.6" height="0.6" fill="#9aa0c8"/>
<rect x="335.9" y="430.4" width="0.6" height="0.6" fill="#9aa0c8"/>
<rect x="349.0" y="421.9" width="0.6" height="0.6" fill="#9aa0c8"/>
<rect x="319.7" y="453.9" width="0.6" height="0.6" fill="#9aa0c8"/>
<rect x="305.9" y="440.4" width="0.6" height="0.6" fill="#9aa0c8"/>
<rect x="300.0" y="449.4" width="0.6" height="0.6" fill="#9aa0c8"/>
<rect x="337.8" y="444.7" width="0.6" height="0.6" fill="#9aa0c8"/>
<path d="M307.06,426.00 C306.63,424.38 306.32,421.89 306.96,420.57 C307.61,419.26 309.50,418.37 310.92,418.08 C312.34,417.79 314.12,418.49 315.48,418.84 C316.85,419.19 317.84,420.31 319.13,420.19 C320.42,420.06 321.65,418.44 323.22,418.08 C324.78,417.73 327.02,417.61 328.53,418.06 C330.03,418.51 331.32,419.66 332.25,420.78 C333.18,421.89 334.13,423.34 334.09,424.76 C334.05,426.17 333.10,428.05 331.98,429.27 C330.86,430.49 329.10,431.31 327.37,432.07 C325.63,432.83 323.99,433.58 321.57,433.83 C319.16,434.08 314.90,434.17 312.89,433.58 C310.89,432.99 310.53,431.53 309.56,430.27 C308.58,429.00 307.49,427.62 307.06,426.00 Z" fill="none" stroke="#a7a3e6" stroke-width="0.55"/>
<path d="M305.71,426.00 C305.79,424.43 307.74,422.56 308.83,421.47 C309.91,420.39 311.14,420.01 312.23,419.51 C313.32,419.01 314.20,418.29 315.34,418.47 C316.48,418.64 317.92,420.37 319.07,420.56 C320.23,420.74 320.85,419.87 322.27,419.57 C323.70,419.26 326.18,418.46 327.63,418.75 C329.08,419.03 329.83,420.26 330.97,421.25 C332.11,422.25 334.42,423.42 334.46,424.73 C334.50,426.03 332.12,427.69 331.19,429.08 C330.26,430.48 330.53,432.38 328.89,433.09 C327.25,433.79 323.97,433.29 321.35,433.30 C318.73,433.32 315.35,433.58 313.18,433.18 C311.01,432.77 309.58,432.06 308.33,430.87 C307.09,429.67 305.62,427.57 305.71,426.00 Z" fill="none" stroke="#8f95de" stroke-width="0.55"/>
<path d="M306.53,426.00 C306.06,424.52 306.88,422.16 307.69,420.92 C308.49,419.69 310.00,418.71 311.39,418.59 C312.77,418.47 314.72,419.90 316.00,420.20 C317.29,420.50 318.05,420.50 319.10,420.39 C320.15,420.27 321.02,419.68 322.31,419.51 C323.60,419.34 325.62,418.98 326.84,419.36 C328.05,419.73 328.87,420.82 329.62,421.76 C330.37,422.69 331.09,423.76 331.33,424.97 C331.56,426.19 331.78,427.93 331.02,429.04 C330.26,430.16 328.40,431.01 326.77,431.68 C325.14,432.35 323.37,433.04 321.25,433.08 C319.13,433.12 315.85,432.46 314.06,431.91 C312.27,431.36 311.76,430.78 310.50,429.80 C309.25,428.81 307.00,427.48 306.53,426.00 Z" fill="none" stroke="#7f9ae0" stroke-width="0.55"/>
<path d="M307.64,426.00 C307.46,424.51 307.63,422.31 308.48,421.31 C309.32,420.31 311.49,420.34 312.69,420.00 C313.88,419.67 314.61,419.12 315.66,419.31 C316.71,419.50 317.87,421.11 318.98,421.15 C320.08,421.19 321.20,419.66 322.30,419.53 C323.40,419.39 324.20,420.01 325.58,420.32 C326.97,420.63 329.80,420.60 330.62,421.38 C331.44,422.17 330.42,423.76 330.49,425.04 C330.56,426.32 331.57,427.88 331.03,429.04 C330.49,430.20 328.88,431.32 327.26,432.00 C325.63,432.69 323.51,433.13 321.28,433.16 C319.05,433.18 315.84,432.64 313.89,432.16 C311.93,431.68 310.59,431.30 309.55,430.27 C308.51,429.24 307.82,427.49 307.64,426.00 Z" fill="none" stroke="#86b4e8" stroke-width="0.55"/>
<path d="M308.61,426.00 C308.41,424.66 308.69,422.74 309.36,421.73 C310.03,420.72 311.53,420.20 312.64,419.95 C313.75,419.71 314.97,420.09 316.03,420.27 C317.09,420.45 317.98,421.10 318.99,421.03 C320.01,420.96 320.93,420.02 322.09,419.86 C323.25,419.69 324.68,419.73 325.93,420.05 C327.17,420.37 328.77,420.95 329.56,421.78 C330.36,422.60 330.66,423.86 330.69,425.02 C330.73,426.19 330.45,427.65 329.77,428.74 C329.09,429.84 328.06,430.94 326.60,431.57 C325.14,432.20 323.12,432.44 321.01,432.52 C318.90,432.61 315.69,432.53 313.94,432.08 C312.20,431.62 311.42,430.80 310.53,429.79 C309.64,428.77 308.80,427.34 308.61,426.00 Z" fill="#a9ddf0" stroke="none"/>
<path d="M310.25,426.00 C310.11,424.92 310.65,423.48 311.17,422.61 C311.69,421.73 312.51,420.98 313.39,420.76 C314.26,420.55 315.51,421.15 316.42,421.32 C317.34,421.49 318.07,421.79 318.88,421.77 C319.68,421.75 320.23,421.36 321.24,421.20 C322.25,421.04 323.81,420.62 324.94,420.81 C326.07,421.01 327.37,421.62 328.03,422.34 C328.70,423.07 328.76,424.13 328.91,425.16 C329.06,426.20 329.61,427.68 328.92,428.54 C328.22,429.40 326.09,429.74 324.74,430.33 C323.39,430.92 322.50,431.94 320.81,432.07 C319.13,432.20 316.10,431.60 314.63,431.10 C313.16,430.60 312.71,429.92 311.98,429.07 C311.25,428.22 310.38,427.08 310.25,426.00 Z" fill="#86d3d8" stroke="none"/>
<path d="M310.61,426.00 C310.46,425.07 311.43,423.77 311.99,423.00 C312.54,422.23 313.17,421.59 313.93,421.36 C314.69,421.13 315.75,421.44 316.55,421.65 C317.35,421.85 318.05,422.52 318.75,422.58 C319.44,422.64 319.87,422.17 320.73,422.01 C321.59,421.84 323.08,421.40 323.92,421.60 C324.76,421.80 325.23,422.57 325.78,423.18 C326.33,423.80 326.97,424.47 327.22,425.30 C327.47,426.12 327.73,427.34 327.29,428.16 C326.85,428.98 325.78,429.86 324.58,430.23 C323.37,430.59 321.61,430.40 320.08,430.36 C318.55,430.32 316.59,430.29 315.40,430.00 C314.21,429.70 313.73,429.27 312.93,428.60 C312.13,427.93 310.77,426.93 310.61,426.00 Z" fill="#7cc86a" stroke="none"/>
<path d="M313.34,426.00 C313.23,425.36 313.56,424.44 313.89,423.92 C314.22,423.40 314.78,422.99 315.32,422.87 C315.86,422.74 316.57,423.08 317.12,423.16 C317.67,423.24 318.15,423.35 318.62,423.35 C319.10,423.35 319.41,423.24 319.98,423.18 C320.56,423.13 321.38,422.92 322.07,423.03 C322.75,423.13 323.67,423.39 324.12,423.80 C324.56,424.21 324.65,424.87 324.72,425.49 C324.79,426.11 324.95,426.98 324.53,427.50 C324.11,428.03 323.02,428.37 322.19,428.65 C321.36,428.92 320.57,429.13 319.56,429.17 C318.56,429.21 317.00,429.13 316.17,428.89 C315.35,428.66 315.08,428.26 314.60,427.77 C314.13,427.29 313.46,426.64 313.34,426.00 Z" fill="#a6d458" stroke="none"/>
<path d="M315.29,426.00 C315.25,425.59 315.38,425.05 315.56,424.73 C315.75,424.40 316.06,424.10 316.39,424.04 C316.73,423.97 317.22,424.23 317.56,424.32 C317.90,424.40 318.13,424.58 318.43,424.55 C318.74,424.52 319.03,424.19 319.38,424.14 C319.73,424.08 320.18,424.10 320.53,424.20 C320.89,424.31 321.26,424.52 321.50,424.77 C321.74,425.02 321.95,425.36 321.97,425.71 C322.00,426.05 321.87,426.51 321.63,426.81 C321.39,427.12 320.97,427.35 320.54,427.55 C320.11,427.75 319.67,427.93 319.06,428.00 C318.44,428.06 317.39,428.06 316.85,427.93 C316.31,427.79 316.07,427.50 315.81,427.18 C315.55,426.86 315.33,426.41 315.29,426.00 Z" fill="#d6e07a" stroke="none"/>
<path d="M316.54,426.00 C316.53,425.78 316.71,425.52 316.82,425.33 C316.93,425.15 317.02,424.95 317.19,424.91 C317.36,424.86 317.65,425.02 317.84,425.05 C318.03,425.08 318.18,425.09 318.35,425.08 C318.51,425.08 318.60,425.06 318.81,425.04 C319.02,425.01 319.39,424.88 319.59,424.93 C319.79,424.98 319.84,425.18 320.01,425.33 C320.17,425.48 320.50,425.62 320.56,425.82 C320.61,426.01 320.52,426.33 320.34,426.51 C320.17,426.68 319.79,426.76 319.51,426.87 C319.24,426.97 319.02,427.12 318.69,427.13 C318.36,427.15 317.82,427.05 317.52,426.97 C317.22,426.89 317.05,426.81 316.89,426.65 C316.72,426.49 316.55,426.22 316.54,426.00 Z" fill="#f09a6a" stroke="none"/>
<path d="M317.25,426.00 C317.24,425.87 317.30,425.70 317.37,425.60 C317.44,425.50 317.57,425.45 317.66,425.42 C317.76,425.38 317.86,425.36 317.96,425.38 C318.07,425.39 318.18,425.49 318.28,425.49 C318.39,425.49 318.48,425.40 318.59,425.38 C318.71,425.36 318.87,425.36 318.99,425.39 C319.11,425.43 319.22,425.51 319.31,425.59 C319.40,425.67 319.52,425.78 319.53,425.90 C319.55,426.01 319.47,426.17 319.40,426.28 C319.32,426.40 319.22,426.51 319.07,426.58 C318.92,426.64 318.71,426.66 318.49,426.67 C318.27,426.68 317.93,426.69 317.75,426.64 C317.58,426.59 317.52,426.48 317.44,426.38 C317.35,426.27 317.26,426.13 317.25,426.00 Z" fill="#e8402e" stroke="none"/>
<path d="M311,433 C309,437 311,441 314,443 M334,431 C337,435 336,440 333,442" fill="none" stroke="#a3a8e4" stroke-width="0.55"/>
<path d="M307.60,452.52 C307.61,450.93 307.91,448.59 308.65,447.01 C309.39,445.43 310.34,443.78 312.01,443.05 C313.69,442.33 316.39,442.79 318.72,442.64 C321.04,442.49 323.41,442.39 325.96,442.16 C328.51,441.93 331.48,441.28 334.03,441.26 C336.58,441.24 340.00,441.24 341.27,442.01 C342.55,442.79 341.43,444.57 341.67,445.91 C341.91,447.26 343.48,448.62 342.70,450.10 C341.92,451.57 339.42,453.41 337.00,454.77 C334.59,456.13 331.31,457.21 328.21,458.25 C325.10,459.28 321.16,460.77 318.35,460.98 C315.54,461.19 312.97,460.23 311.34,459.50 C309.71,458.77 309.18,457.76 308.55,456.59 C307.93,455.43 307.58,454.12 307.60,452.52 Z" fill="none" stroke="#a7a3e6" stroke-width="0.55"/>
<path d="M308.38,452.35 C308.49,450.80 308.71,448.66 309.38,447.16 C310.06,445.66 310.89,444.20 312.42,443.35 C313.94,442.49 316.27,442.23 318.52,442.04 C320.77,441.84 323.69,442.10 325.94,442.18 C328.20,442.27 329.65,442.50 332.06,442.52 C334.47,442.55 338.80,441.77 340.41,442.34 C342.03,442.90 341.79,444.62 341.74,445.90 C341.69,447.18 341.31,448.69 340.10,450.04 C338.89,451.38 336.54,452.66 334.50,453.96 C332.46,455.26 330.46,457.05 327.86,457.83 C325.26,458.61 321.48,458.55 318.89,458.66 C316.31,458.77 314.03,458.85 312.33,458.48 C310.64,458.12 309.40,457.51 308.74,456.49 C308.08,455.47 308.27,453.91 308.38,452.35 Z" fill="none" stroke="#8f95de" stroke-width="0.55"/>
<path d="M308.99,452.22 C309.02,450.74 308.93,448.61 309.60,447.21 C310.28,445.80 311.52,444.58 313.03,443.79 C314.54,443.00 316.65,442.54 318.67,442.48 C320.68,442.42 322.74,443.51 325.12,443.43 C327.49,443.34 330.76,442.01 332.91,441.98 C335.05,441.95 336.46,442.60 337.99,443.24 C339.51,443.89 341.57,444.71 342.07,445.84 C342.56,446.98 341.91,448.60 340.96,450.06 C340.01,451.51 338.67,453.41 336.37,454.56 C334.07,455.72 330.07,456.31 327.16,456.99 C324.25,457.66 321.44,458.30 318.90,458.62 C316.37,458.93 313.52,459.30 311.95,458.88 C310.37,458.46 309.94,457.20 309.45,456.09 C308.95,454.98 308.97,453.70 308.99,452.22 Z" fill="none" stroke="#7f9ae0" stroke-width="0.55"/>
<path d="M310.10,451.98 C310.03,450.55 309.11,448.57 309.61,447.21 C310.10,445.85 311.54,444.56 313.06,443.82 C314.59,443.07 316.70,442.87 318.75,442.74 C320.80,442.61 323.15,443.07 325.38,443.03 C327.62,442.98 330.51,442.25 332.15,442.46 C333.79,442.67 333.80,443.68 335.21,444.28 C336.62,444.89 340.12,445.15 340.59,446.11 C341.06,447.06 338.94,448.65 338.02,449.99 C337.10,451.33 336.89,452.99 335.07,454.15 C333.25,455.30 329.78,456.17 327.09,456.91 C324.40,457.64 321.31,458.37 318.91,458.58 C316.51,458.78 314.17,458.59 312.68,458.13 C311.20,457.66 310.43,456.80 310.00,455.78 C309.57,454.75 310.16,453.41 310.10,451.98 Z" fill="none" stroke="#86b4e8" stroke-width="0.55"/>
<path d="M309.73,452.06 C309.83,450.69 310.05,448.69 310.79,447.46 C311.53,446.22 312.82,445.28 314.19,444.64 C315.56,444.00 317.24,443.76 319.03,443.60 C320.82,443.44 322.92,443.77 324.94,443.69 C326.96,443.61 329.21,443.09 331.14,443.11 C333.07,443.13 335.09,443.27 336.50,443.80 C337.90,444.33 339.20,445.25 339.58,446.29 C339.96,447.32 339.69,448.75 338.78,450.01 C337.86,451.26 336.01,452.66 334.07,453.82 C332.13,454.98 329.63,456.25 327.12,456.95 C324.62,457.64 321.41,457.84 319.05,457.99 C316.69,458.14 314.42,458.24 312.95,457.85 C311.48,457.46 310.75,456.63 310.21,455.66 C309.67,454.70 309.64,453.43 309.73,452.06 Z" fill="#a9ddf0" stroke="none"/>
<path d="M311.39,451.70 C311.41,450.52 311.32,448.75 311.96,447.70 C312.60,446.65 314.03,446.01 315.23,445.39 C316.43,444.78 317.59,444.21 319.16,443.99 C320.74,443.77 322.82,444.14 324.68,444.08 C326.54,444.02 328.64,443.58 330.30,443.65 C331.97,443.71 333.62,443.96 334.64,444.49 C335.66,445.03 336.04,445.94 336.42,446.85 C336.80,447.76 337.75,448.95 336.92,449.96 C336.08,450.98 333.18,451.98 331.40,452.96 C329.61,453.94 328.21,455.25 326.21,455.85 C324.20,456.44 321.47,456.32 319.39,456.51 C317.32,456.71 315.02,457.31 313.76,457.02 C312.51,456.72 312.26,455.62 311.86,454.73 C311.47,453.85 311.38,452.87 311.39,451.70 Z" fill="#86d3d8" stroke="none"/>
<path d="M312.52,451.45 C312.54,450.56 313.56,449.05 314.19,448.17 C314.83,447.29 315.40,446.63 316.31,446.18 C317.22,445.74 318.38,445.70 319.66,445.51 C320.94,445.33 322.51,445.22 324.01,445.08 C325.51,444.95 327.14,444.70 328.66,444.70 C330.19,444.69 332.13,444.65 333.15,445.05 C334.16,445.46 334.62,446.34 334.75,447.15 C334.88,447.95 334.60,448.97 333.92,449.90 C333.24,450.82 332.11,451.91 330.68,452.73 C329.24,453.54 327.16,454.25 325.31,454.77 C323.45,455.29 321.16,455.78 319.55,455.84 C317.93,455.90 316.52,455.52 315.61,455.13 C314.70,454.73 314.58,454.11 314.06,453.50 C313.55,452.89 312.49,452.34 312.52,451.45 Z" fill="#7cc86a" stroke="none"/>
<path d="M315.09,450.89 C315.11,450.23 315.61,449.20 316.01,448.55 C316.40,447.91 316.79,447.34 317.46,447.02 C318.13,446.70 319.13,446.67 320.03,446.63 C320.93,446.60 321.89,446.83 322.86,446.81 C323.83,446.78 324.96,446.47 325.87,446.48 C326.78,446.49 327.67,446.61 328.29,446.87 C328.92,447.13 329.47,447.58 329.62,448.06 C329.77,448.55 329.66,449.21 329.22,449.79 C328.77,450.36 327.82,450.95 326.95,451.52 C326.09,452.10 325.18,452.89 324.03,453.23 C322.88,453.58 321.25,453.51 320.07,453.61 C318.88,453.70 317.61,453.98 316.91,453.79 C316.21,453.60 316.18,452.96 315.87,452.48 C315.57,452.00 315.07,451.54 315.09,450.89 Z" fill="#a6d458" stroke="none"/>
<path d="M317.83,450.29 C317.85,449.90 317.82,449.34 318.00,448.97 C318.17,448.60 318.47,448.25 318.88,448.05 C319.28,447.85 319.85,447.83 320.40,447.78 C320.96,447.74 321.62,447.79 322.22,447.77 C322.82,447.76 323.42,447.67 323.99,447.68 C324.57,447.70 325.29,447.69 325.66,447.85 C326.04,448.02 326.22,448.35 326.25,448.66 C326.29,448.97 326.14,449.35 325.88,449.71 C325.63,450.07 325.23,450.44 324.73,450.80 C324.23,451.16 323.60,451.68 322.89,451.87 C322.18,452.06 321.16,451.94 320.45,451.96 C319.75,451.98 319.09,452.10 318.66,451.99 C318.24,451.89 318.03,451.63 317.89,451.35 C317.76,451.06 317.81,450.69 317.83,450.29 Z" fill="#d6e07a" stroke="none"/>
<path d="M319.19,449.99 C319.22,449.76 319.17,449.44 319.28,449.24 C319.39,449.03 319.63,448.89 319.86,448.77 C320.09,448.65 320.34,448.54 320.64,448.51 C320.94,448.47 321.34,448.58 321.68,448.59 C322.01,448.59 322.29,448.55 322.65,448.54 C323.01,448.54 323.55,448.47 323.82,448.54 C324.10,448.62 324.25,448.82 324.31,449.01 C324.37,449.20 324.34,449.45 324.17,449.67 C324.00,449.89 323.64,450.15 323.28,450.34 C322.91,450.52 322.40,450.64 321.96,450.75 C321.53,450.87 321.04,451.00 320.67,451.03 C320.29,451.06 319.96,450.99 319.70,450.93 C319.45,450.87 319.21,450.81 319.12,450.66 C319.04,450.50 319.17,450.23 319.19,449.99 Z" fill="#f09a6a" stroke="none"/>
<path d="M319.88,449.85 C319.87,449.71 319.86,449.50 319.93,449.38 C320.00,449.25 320.16,449.16 320.31,449.09 C320.45,449.03 320.60,448.99 320.79,448.97 C320.98,448.94 321.23,448.95 321.43,448.95 C321.63,448.95 321.81,448.95 322.00,448.96 C322.20,448.96 322.46,448.95 322.62,449.00 C322.77,449.05 322.88,449.15 322.93,449.26 C322.97,449.36 322.99,449.52 322.86,449.64 C322.74,449.76 322.41,449.88 322.19,449.98 C321.98,450.09 321.80,450.19 321.56,450.28 C321.33,450.37 321.02,450.51 320.78,450.54 C320.55,450.57 320.30,450.52 320.16,450.46 C320.03,450.39 320.04,450.27 320.00,450.16 C319.95,450.06 319.89,449.98 319.88,449.85 Z" fill="#e8402e" stroke="none"/>
<rect x="282.20" y="400.10" width="81.50" height="70.80" fill="none" stroke="#231f20" stroke-width="1.4" />
<rect x="296.90" y="414.60" width="50.60" height="26.90" fill="none" stroke="#231f20" stroke-width="1.25" />
<text x="287.70" y="409.79" font-size="8.8" text-anchor="start" fill="#231f20" stroke="#231f20" stroke-width="0.16" textLength="43.5" lengthAdjust="spacingAndGlyphs">CD9<tspan font-size="5.8" dy="-2.8">+</tspan><tspan dy="2.8">: 43%</tspan></text>
<text x="286.30" y="468.59" font-size="8.8" text-anchor="start" fill="#231f20" stroke="#231f20" stroke-width="0.16" textLength="16.4" lengthAdjust="spacingAndGlyphs">96 h</text>
<text transform="translate(187.70,437.50) rotate(-90)" x="0" y="3.54" font-size="10.4" text-anchor="middle" fill="#3a3a3a" textLength="14.9" lengthAdjust="spacingAndGlyphs">CD9</text>
<text x="284.60" y="486.54" font-size="10.4" text-anchor="middle" fill="#3a3a3a" textLength="19.3" lengthAdjust="spacingAndGlyphs">FSC-A</text>
<line x1="401.30" y1="385.20" x2="401.30" y2="476.85" stroke="#231f20" stroke-width="1.3" />
<line x1="398.50" y1="386.05" x2="401.30" y2="386.05" stroke="#231f20" stroke-width="1.1" />
<text x="395.60" y="388.63" font-size="7.6" text-anchor="end" fill="#231f20" stroke="#231f20" stroke-width="0.16" textLength="11.3" lengthAdjust="spacingAndGlyphs">2.0</text>
<line x1="398.50" y1="416.10" x2="401.30" y2="416.10" stroke="#231f20" stroke-width="1.1" />
<text x="395.60" y="418.68" font-size="7.6" text-anchor="end" fill="#231f20" stroke="#231f20" stroke-width="0.16" textLength="11.3" lengthAdjust="spacingAndGlyphs">1.5</text>
<line x1="398.50" y1="446.15" x2="401.30" y2="446.15" stroke="#231f20" stroke-width="1.1" />
<text x="395.60" y="448.73" font-size="7.6" text-anchor="end" fill="#231f20" stroke="#231f20" stroke-width="0.16" textLength="11.3" lengthAdjust="spacingAndGlyphs">1.0</text>
<line x1="398.50" y1="476.20" x2="401.30" y2="476.20" stroke="#231f20" stroke-width="1.1" />
<text x="395.60" y="478.78" font-size="7.6" text-anchor="end" fill="#231f20" stroke="#231f20" stroke-width="0.16" textLength="11.3" lengthAdjust="spacingAndGlyphs">0.5</text>
<line x1="400.65" y1="476.20" x2="486.80" y2="476.20" stroke="#231f20" stroke-width="1.3" />
<rect x="404.00" y="459.00" width="11.60" height="17.20" fill="#bcbdc0" />
<line x1="409.80" y1="450.00" x2="409.80" y2="466.70" stroke="#231f20" stroke-width="1.3" />
<line x1="407.50" y1="450.00" x2="412.10" y2="450.00" stroke="#231f20" stroke-width="1.3" />
<line x1="407.50" y1="466.70" x2="412.10" y2="466.70" stroke="#231f20" stroke-width="1.3" />
<line x1="409.80" y1="476.20" x2="409.80" y2="478.90" stroke="#231f20" stroke-width="1.1" />
<rect x="421.30" y="447.40" width="11.60" height="28.80" fill="#bcbdc0" />
<line x1="427.10" y1="438.50" x2="427.10" y2="456.60" stroke="#231f20" stroke-width="1.3" />
<line x1="424.80" y1="438.50" x2="429.40" y2="438.50" stroke="#231f20" stroke-width="1.3" />
<line x1="424.80" y1="456.60" x2="429.40" y2="456.60" stroke="#231f20" stroke-width="1.3" />
<line x1="427.10" y1="476.20" x2="427.10" y2="478.90" stroke="#231f20" stroke-width="1.1" />
<rect x="438.60" y="437.90" width="11.60" height="38.30" fill="#bcbdc0" />
<line x1="444.40" y1="427.80" x2="444.40" y2="448.50" stroke="#231f20" stroke-width="1.3" />
<line x1="442.10" y1="427.80" x2="446.70" y2="427.80" stroke="#231f20" stroke-width="1.3" />
<line x1="442.10" y1="448.50" x2="446.70" y2="448.50" stroke="#231f20" stroke-width="1.3" />
<line x1="444.40" y1="476.20" x2="444.40" y2="478.90" stroke="#231f20" stroke-width="1.1" />
<rect x="456.00" y="420.60" width="11.50" height="55.60" fill="#bcbdc0" />
<line x1="461.75" y1="409.00" x2="461.75" y2="432.00" stroke="#231f20" stroke-width="1.3" />
<line x1="459.45" y1="409.00" x2="464.05" y2="409.00" stroke="#231f20" stroke-width="1.3" />
<line x1="459.45" y1="432.00" x2="464.05" y2="432.00" stroke="#231f20" stroke-width="1.3" />
<line x1="461.75" y1="476.20" x2="461.75" y2="478.90" stroke="#231f20" stroke-width="1.1" />
<rect x="473.00" y="388.80" width="11.50" height="87.40" fill="#bcbdc0" />
<line x1="478.75" y1="388.00" x2="478.75" y2="390.30" stroke="#231f20" stroke-width="1.3" />
<line x1="476.45" y1="388.00" x2="481.05" y2="388.00" stroke="#231f20" stroke-width="1.3" />
<line x1="476.45" y1="390.30" x2="481.05" y2="390.30" stroke="#231f20" stroke-width="1.3" />
<line x1="478.75" y1="476.20" x2="478.75" y2="478.90" stroke="#231f20" stroke-width="1.1" />
<line x1="413.30" y1="384.50" x2="481.00" y2="384.50" stroke="#231f20" stroke-width="1.3" />
<path d="M445.00,381.20 L445.00,379.50 M445.00,381.20 L446.62,380.67 M445.00,381.20 L446.00,382.58 M445.00,381.20 L444.00,382.58 M445.00,381.20 L443.38,380.67 " stroke="#231f20" stroke-width="0.8" stroke-linecap="round" fill="none"/>
<text x="444.50" y="375.79" font-size="8.2" text-anchor="middle" fill="#231f20" stroke="#231f20" stroke-width="0.16" textLength="15.3" lengthAdjust="spacingAndGlyphs">LSK</text>
<text transform="translate(377.70,430.60) rotate(-90)" x="0" y="2.65" font-size="7.8" text-anchor="middle" fill="#3a3a3a" stroke="#3a3a3a" stroke-width="0.03" textLength="56.4" lengthAdjust="spacingAndGlyphs">MFI CD9 (×10<tspan font-size="5.2" dy="-2.6">5</tspan><tspan dy="2.6">)</tspan></text>
<text x="385.50" y="488.18" font-size="7.6" text-anchor="start" fill="#231f20" stroke="#231f20" stroke-width="0.16" textLength="28.2" lengthAdjust="spacingAndGlyphs">TPO: us</text>
<text x="418.75" y="488.18" font-size="7.6" text-anchor="start" fill="#231f20" stroke="#231f20" stroke-width="0.16" textLength="16.75" lengthAdjust="spacingAndGlyphs">24 h</text>
<text x="436.25" y="488.18" font-size="7.6" text-anchor="start" fill="#231f20" stroke="#231f20" stroke-width="0.16" textLength="16.25" lengthAdjust="spacingAndGlyphs">48 h</text>
<text x="453.75" y="488.18" font-size="7.6" text-anchor="start" fill="#231f20" stroke="#231f20" stroke-width="0.16" textLength="15.5" lengthAdjust="spacingAndGlyphs">72 h</text>
<text x="471.25" y="488.18" font-size="7.6" text-anchor="start" fill="#231f20" stroke="#231f20" stroke-width="0.16" textLength="15.0" lengthAdjust="spacingAndGlyphs">96 h</text>
<text x="8.10" y="520.58" font-size="12.0" text-anchor="start" fill="#000" stroke="#000" stroke-width="0.1" font-weight="bold" textLength="5.800000000000001" lengthAdjust="spacingAndGlyphs">F</text>
<text x="69.60" y="528.66" font-size="8.4" text-anchor="middle" fill="#231f20" stroke="#231f20" stroke-width="0.16" textLength="25.4" lengthAdjust="spacingAndGlyphs">HPC<tspan font-size="5.4" dy="-2.8">LSK</tspan></text>
<text x="68.00" y="581.62" font-size="8.6" text-anchor="middle" fill="#231f20" stroke="#231f20" stroke-width="0.16" textLength="21.5" lengthAdjust="spacingAndGlyphs">HPC7</text>
<line x1="18.20" y1="536.00" x2="18.20" y2="632.75" stroke="#231f20" stroke-width="1.5" />
<path d="M18.2,531.6 L15.0,536.9 L21.4,536.9 Z" fill="#231f20"/>
<line x1="17.45" y1="632.00" x2="103.80" y2="632.00" stroke="#231f20" stroke-width="1.5" />
<path d="M108.8,632 L103.4,628.8 L103.4,635.2 Z" fill="#231f20"/>
<text transform="translate(11.20,579.80) rotate(-90)" x="0" y="3.57" font-size="10.5" text-anchor="middle" fill="#3a3a3a" textLength="20.4" lengthAdjust="spacingAndGlyphs">Count</text>
<text x="63.20" y="641.44" font-size="10.4" text-anchor="middle" fill="#3a3a3a" textLength="14.1" lengthAdjust="spacingAndGlyphs">CD9</text>
<path d="M24.60,545.40 L24.60,545.13 L25.10,545.04 L25.60,544.78 L26.10,544.36 L26.60,544.20 L27.10,543.93 L27.60,543.78 L28.10,543.61 L28.60,542.88 L29.10,542.53 L29.60,542.80 L30.10,542.23 L30.60,542.17 L31.10,541.35 L31.60,541.37 L32.10,541.27 L32.60,540.48 L33.10,540.42 L33.60,539.84 L34.10,538.67 L34.60,538.11 L35.10,537.90 L35.60,537.53 L36.10,536.49 L36.60,535.72 L37.10,535.27 L37.60,534.61 L38.10,534.37 L38.60,534.14 L39.10,533.80 L39.60,533.27 L40.10,533.07 L40.60,532.86 L41.10,532.83 L41.60,532.51 L42.10,532.21 L42.60,533.01 L43.10,533.03 L43.60,533.32 L44.10,533.29 L44.60,534.41 L45.10,534.87 L45.60,534.91 L46.10,535.57 L46.60,536.32 L47.10,536.79 L47.60,537.42 L48.10,537.54 L48.60,538.29 L49.10,538.65 L49.60,538.86 L50.10,539.46 L50.60,540.06 L51.10,540.43 L51.60,540.55 L52.10,540.86 L52.60,540.72 L53.10,541.12 L53.60,541.75 L54.10,541.70 L54.60,541.76 L55.10,542.24 L55.60,542.57 L56.10,542.75 L56.60,542.68 L57.10,542.87 L57.60,543.06 L58.10,543.37 L58.60,543.34 L59.10,543.41 L59.60,543.56 L60.10,543.39 L60.60,543.49 L61.10,543.92 L61.60,544.14 L62.10,544.03 L62.60,544.02 L63.10,544.01 L63.60,544.23 L64.10,544.50 L64.60,544.48 L65.10,544.46 L65.60,544.64 L66.10,544.49 L66.60,544.65 L67.10,544.85 L67.60,544.80 L68.10,544.83 L68.60,544.85 L69.10,544.99 L69.60,545.14 L70.10,545.00 L70.60,545.23 L70.80,545.26 L70.80,545.40 Z" fill="#c2c3c5" stroke="none"/>
<line x1="22.30" y1="560.00" x2="108.00" y2="560.00" stroke="#8fb1d4" stroke-width="0.8" />
<path d="M33.30,560.00 L33.30,560.00 L33.80,559.61 L34.30,558.53 L34.80,557.88 L35.30,558.00 L35.80,557.30 L36.30,556.63 L36.80,555.63 L37.30,555.33 L37.80,554.68 L38.30,554.00 L38.80,552.88 L39.30,552.59 L39.80,552.00 L40.30,551.82 L40.80,551.56 L41.30,550.95 L41.80,549.93 L42.30,549.24 L42.80,548.48 L43.30,547.79 L43.80,547.45 L44.30,547.59 L44.80,547.10 L45.30,546.83 L45.80,547.06 L46.30,546.75 L46.80,547.17 L47.30,547.07 L47.80,546.64 L48.30,546.77 L48.80,546.49 L49.30,547.38 L49.80,548.39 L50.30,548.50 L50.80,548.42 L51.30,549.65 L51.80,550.00 L52.30,550.38 L52.80,551.08 L53.30,551.47 L53.80,552.05 L54.30,552.12 L54.80,553.38 L55.30,553.94 L55.80,553.64 L56.30,554.88 L56.80,555.02 L57.30,554.92 L57.80,555.18 L58.30,555.32 L58.80,555.94 L59.30,555.59 L59.80,556.08 L60.30,555.67 L60.80,556.37 L61.30,556.51 L61.80,556.16 L62.30,556.40 L62.80,556.91 L63.30,556.82 L63.80,556.69 L64.30,556.52 L64.80,556.76 L65.30,557.26 L65.80,556.74 L66.30,557.62 L66.80,556.98 L67.30,557.76 L67.80,557.16 L68.30,557.94 L68.80,557.73 L69.30,557.53 L69.80,557.57 L70.30,557.74 L70.80,557.69 L71.30,557.42 L71.80,557.33 L72.30,557.68 L72.80,558.16 L73.30,557.85 L73.80,557.30 L74.30,558.10 L74.80,558.02 L75.30,558.22 L75.80,557.50 L76.30,558.07 L76.80,557.38 L77.30,557.99 L77.80,557.61 L78.30,557.57 L78.80,558.23 L79.30,557.46 L79.80,557.89 L80.30,558.23 L80.80,557.62 L81.30,557.60 L81.80,558.27 L82.30,557.82 L82.80,558.14 L83.30,557.50 L83.80,557.85 L84.30,557.69 L84.80,558.19 L85.30,557.67 L85.80,558.50 L86.30,557.68 L86.80,558.34 L87.30,557.74 L87.80,557.97 L88.30,558.49 L88.80,557.94 L89.30,558.00 L89.80,558.45 L90.30,558.22 L90.80,557.97 L91.30,558.77 L91.80,558.11 L92.30,558.05 L92.80,558.32 L93.30,558.56 L93.80,558.68 L94.30,558.23 L94.80,558.43 L95.30,558.23 L95.80,558.56 L96.30,558.83 L96.80,558.85 L97.30,558.99 L97.80,558.93 L98.30,559.03 L98.80,558.96 L99.30,558.85 L99.80,558.74 L100.30,559.04 L100.80,558.88 L101.30,558.80 L101.80,559.05 L102.30,559.33 L102.80,558.99 L103.30,559.27 L103.80,559.23 L104.30,559.33 L104.80,559.21 L105.30,559.61 L105.80,559.35 L106.30,559.53 L106.80,559.50 L107.30,559.39 L107.60,559.62 L107.60,560.00 Z" fill="#1b5a8e" stroke="none"/>
<path d="M42.00,574.20 L42.00,574.14 L42.50,573.88 L43.00,573.46 L43.50,573.24 L44.00,572.93 L44.50,572.13 L45.00,571.69 L45.50,572.19 L46.00,571.21 L46.50,570.84 L47.00,571.13 L47.50,569.86 L48.00,569.56 L48.50,568.47 L49.00,567.87 L49.50,566.54 L50.00,566.29 L50.50,565.76 L51.00,564.87 L51.50,564.66 L52.00,564.14 L52.50,563.02 L53.00,563.57 L53.50,563.18 L54.00,562.65 L54.50,562.14 L55.00,562.84 L55.50,562.20 L56.00,562.25 L56.50,562.22 L57.00,561.90 L57.50,561.99 L58.00,561.27 L58.50,561.71 L59.00,561.53 L59.50,562.27 L60.00,562.42 L60.50,561.87 L61.00,562.22 L61.50,562.62 L62.00,563.75 L62.50,563.48 L63.00,564.01 L63.50,563.97 L64.00,564.51 L64.50,564.75 L65.00,565.09 L65.50,565.72 L66.00,566.09 L66.50,566.80 L67.00,566.92 L67.50,567.55 L68.00,567.83 L68.50,568.34 L69.00,568.38 L69.50,568.21 L70.00,569.37 L70.50,569.88 L71.00,570.13 L71.50,569.99 L72.00,570.37 L72.50,570.04 L73.00,570.94 L73.50,570.88 L74.00,570.68 L74.50,570.55 L75.00,571.54 L75.50,571.81 L76.00,570.93 L76.50,571.83 L77.00,571.52 L77.50,571.34 L78.00,571.62 L78.50,572.24 L79.00,572.44 L79.50,571.75 L80.00,572.40 L80.50,571.98 L81.00,572.65 L81.50,572.41 L82.00,572.94 L82.50,573.08 L83.00,572.80 L83.50,573.23 L84.00,572.84 L84.50,572.77 L85.00,573.17 L85.50,572.89 L86.00,573.06 L86.50,573.25 L87.00,573.43 L87.50,573.26 L88.00,573.28 L88.50,573.73 L89.00,573.54 L89.50,573.87 L90.00,573.90 L90.50,573.77 L91.00,573.86 L91.50,573.94 L92.00,574.04 L92.00,574.20 Z" fill="#5a2a7e" stroke="none"/>
<rect x="22.30" y="531.60" width="85.80" height="42.80" fill="none" stroke="#231f20" stroke-width="1.35" />
<text x="106.50" y="537.61" font-size="6.8" text-anchor="end" fill="#231f20" stroke="#231f20" stroke-width="0.16" textLength="7.0" lengthAdjust="spacingAndGlyphs">Wt</text>
<text x="106.60" y="552.01" font-size="6.8" text-anchor="end" fill="#231f20" stroke="#231f20" stroke-width="0.16" textLength="29.5" lengthAdjust="spacingAndGlyphs">+FLT3-ITD</text>
<text x="106.80" y="566.11" font-size="6.8" text-anchor="end" fill="#231f20" stroke="#231f20" stroke-width="0.16" textLength="38.5" lengthAdjust="spacingAndGlyphs">+BCR/ABL<tspan font-size="3.8" dy="-2.2">p210</tspan></text>
<path d="M24.60,597.00 L24.60,596.96 L25.10,596.38 L25.60,595.92 L26.10,595.26 L26.60,594.65 L27.10,594.33 L27.60,594.17 L28.10,593.56 L28.60,593.02 L29.10,592.12 L29.60,591.87 L30.10,591.31 L30.60,590.85 L31.10,590.42 L31.60,590.11 L32.10,590.22 L32.60,589.77 L33.10,589.36 L33.60,588.97 L34.10,588.16 L34.60,587.94 L35.10,587.88 L35.60,587.67 L36.10,587.47 L36.60,587.22 L37.10,586.42 L37.60,586.55 L38.10,586.35 L38.60,586.00 L39.10,585.54 L39.60,585.57 L40.10,585.12 L40.60,585.53 L41.10,585.30 L41.60,584.91 L42.10,584.63 L42.60,584.95 L43.10,584.60 L43.60,584.71 L44.10,584.65 L44.60,584.44 L45.10,584.39 L45.60,584.54 L46.10,584.44 L46.60,584.28 L47.10,584.46 L47.60,584.90 L48.10,584.44 L48.60,584.52 L49.10,585.01 L49.60,584.85 L50.10,585.20 L50.60,585.32 L51.10,585.41 L51.60,586.04 L52.10,585.65 L52.60,585.98 L53.10,586.06 L53.60,586.59 L54.10,586.56 L54.60,586.84 L55.10,587.34 L55.60,587.31 L56.10,587.80 L56.60,588.37 L57.10,588.13 L57.60,588.43 L58.10,588.88 L58.60,589.59 L59.10,589.83 L59.60,589.91 L60.10,590.32 L60.60,590.56 L61.10,591.10 L61.60,591.09 L62.10,591.82 L62.60,592.23 L63.10,592.54 L63.60,592.65 L64.10,593.07 L64.60,592.62 L65.10,593.03 L65.60,593.72 L66.10,593.80 L66.60,593.76 L67.10,594.34 L67.60,594.28 L68.10,594.59 L68.60,594.39 L69.10,594.49 L69.60,594.83 L70.10,594.80 L70.60,595.07 L71.10,595.50 L71.60,595.27 L72.10,595.22 L72.60,595.36 L73.10,595.54 L73.60,595.91 L74.10,595.84 L74.60,595.92 L75.10,595.97 L75.60,596.37 L76.10,596.30 L76.60,596.34 L77.10,596.41 L77.60,596.52 L78.10,596.65 L78.50,596.83 L78.50,597.00 Z" fill="#c2c3c5" stroke="none"/>
<line x1="22.10" y1="611.30" x2="108.30" y2="611.30" stroke="#8fb1d4" stroke-width="0.8" />
<path d="M38.50,611.30 L38.50,611.30 L39.00,607.15 L39.50,605.20 L40.00,604.22 L40.50,602.91 L41.00,602.25 L41.50,600.72 L42.00,600.64 L42.50,600.58 L43.00,599.66 L43.50,599.50 L44.00,598.55 L44.50,599.37 L45.00,599.55 L45.50,600.11 L46.00,600.24 L46.50,599.72 L47.00,599.57 L47.50,598.94 L48.00,599.57 L48.50,599.75 L49.00,599.56 L49.50,600.81 L50.00,600.64 L50.50,601.72 L51.00,601.66 L51.50,601.99 L52.00,603.41 L52.50,602.91 L53.00,603.15 L53.50,604.23 L54.00,604.32 L54.50,603.89 L55.00,604.84 L55.50,604.57 L56.00,604.85 L56.50,604.46 L57.00,605.41 L57.50,605.26 L58.00,605.69 L58.50,605.74 L59.00,605.22 L59.50,605.42 L60.00,605.33 L60.50,605.39 L61.00,605.39 L61.50,605.73 L62.00,606.15 L62.50,605.57 L63.00,606.40 L63.50,606.11 L64.00,606.16 L64.50,606.80 L65.00,606.51 L65.50,606.41 L66.00,606.68 L66.50,606.98 L67.00,606.32 L67.50,607.38 L68.00,606.39 L68.50,607.24 L69.00,607.37 L69.50,606.43 L70.00,607.24 L70.50,606.75 L71.00,606.95 L71.50,606.29 L72.00,606.30 L72.50,606.42 L73.00,607.23 L73.50,606.37 L74.00,606.95 L74.50,607.11 L75.00,607.09 L75.50,606.40 L76.00,606.37 L76.50,606.53 L77.00,606.76 L77.50,605.98 L78.00,606.64 L78.50,606.66 L79.00,606.68 L79.50,605.73 L80.00,606.69 L80.50,605.75 L81.00,606.02 L81.50,606.32 L82.00,606.66 L82.50,606.05 L83.00,606.77 L83.50,606.43 L84.00,606.25 L84.50,606.32 L85.00,606.25 L85.50,606.20 L86.00,606.35 L86.50,607.01 L87.00,607.41 L87.50,606.56 L88.00,606.50 L88.50,607.70 L89.00,607.37 L89.50,607.40 L90.00,607.38 L90.50,607.94 L91.00,608.36 L91.50,608.06 L92.00,608.13 L92.50,607.83 L93.00,608.89 L93.50,608.02 L94.00,608.64 L94.50,609.15 L95.00,608.51 L95.50,609.28 L96.00,609.62 L96.50,609.42 L97.00,609.65 L97.50,609.11 L98.00,609.49 L98.50,609.33 L99.00,609.98 L99.50,609.62 L100.00,609.86 L100.50,610.36 L101.00,610.37 L101.50,610.55 L102.00,610.35 L102.50,610.49 L103.00,610.68 L103.50,610.63 L104.00,610.62 L104.50,610.74 L105.00,610.71 L105.50,610.86 L106.00,611.12 L106.50,611.14 L107.00,611.07 L107.50,611.07 L107.80,611.05 L107.80,611.30 Z" fill="#1b5a8e" stroke="none"/>
<path d="M52.50,625.00 L52.50,625.00 L53.00,624.95 L53.50,624.72 L54.00,624.49 L54.50,624.23 L55.00,624.38 L55.50,624.11 L56.00,624.11 L56.50,623.69 L57.00,623.80 L57.50,623.20 L58.00,623.39 L58.50,623.07 L59.00,622.46 L59.50,622.32 L60.00,622.20 L60.50,621.28 L61.00,621.30 L61.50,621.19 L62.00,620.22 L62.50,620.33 L63.00,619.70 L63.50,619.38 L64.00,618.32 L64.50,617.48 L65.00,617.68 L65.50,617.11 L66.00,616.14 L66.50,615.40 L67.00,615.17 L67.50,615.30 L68.00,614.57 L68.50,615.02 L69.00,614.34 L69.50,613.64 L70.00,613.91 L70.50,613.44 L71.00,613.92 L71.50,613.75 L72.00,613.27 L72.50,613.38 L73.00,613.52 L73.50,613.80 L74.00,614.16 L74.50,613.28 L75.00,614.00 L75.50,614.61 L76.00,614.63 L76.50,615.30 L77.00,615.20 L77.50,616.52 L78.00,616.58 L78.50,616.58 L79.00,617.71 L79.50,617.85 L80.00,618.24 L80.50,619.08 L81.00,619.17 L81.50,619.72 L82.00,620.92 L82.50,621.18 L83.00,620.82 L83.50,622.05 L84.00,621.61 L84.50,622.33 L85.00,623.28 L85.50,623.34 L86.00,623.46 L86.50,623.77 L87.00,624.04 L87.50,624.18 L88.00,624.78 L88.00,625.00 Z" fill="#5a2a7e" stroke="none"/>
<rect x="22.10" y="582.60" width="86.40" height="42.90" fill="none" stroke="#231f20" stroke-width="1.35" />
<text x="106.50" y="589.61" font-size="6.8" text-anchor="end" fill="#231f20" stroke="#231f20" stroke-width="0.16" textLength="7.0" lengthAdjust="spacingAndGlyphs">Wt</text>
<text x="106.60" y="602.91" font-size="6.8" text-anchor="end" fill="#231f20" stroke="#231f20" stroke-width="0.16" textLength="29.5" lengthAdjust="spacingAndGlyphs">+FLT3-ITD</text>
<text x="106.60" y="618.31" font-size="6.8" text-anchor="end" fill="#231f20" stroke="#231f20" stroke-width="0.16" textLength="30.5" lengthAdjust="spacingAndGlyphs">+JAK2<tspan font-size="3.8" dy="-2.2">V617F</tspan></text>
<line x1="135.80" y1="535.40" x2="135.80" y2="626.95" stroke="#231f20" stroke-width="1.3" />
<line x1="133.20" y1="536.30" x2="135.80" y2="536.30" stroke="#231f20" stroke-width="1.1" />
<text x="131.40" y="538.82" font-size="7.4" text-anchor="end" fill="#231f20" stroke="#231f20" stroke-width="0.16" textLength="7.82" lengthAdjust="spacingAndGlyphs">10</text>
<line x1="133.20" y1="554.30" x2="135.80" y2="554.30" stroke="#231f20" stroke-width="1.1" />
<text x="131.40" y="556.82" font-size="7.4" text-anchor="end" fill="#231f20" stroke="#231f20" stroke-width="0.16" textLength="3.91" lengthAdjust="spacingAndGlyphs">8</text>
<line x1="133.20" y1="572.30" x2="135.80" y2="572.30" stroke="#231f20" stroke-width="1.1" />
<text x="131.40" y="574.82" font-size="7.4" text-anchor="end" fill="#231f20" stroke="#231f20" stroke-width="0.16" textLength="3.91" lengthAdjust="spacingAndGlyphs">6</text>
<line x1="133.20" y1="590.30" x2="135.80" y2="590.30" stroke="#231f20" stroke-width="1.1" />
<text x="131.40" y="592.82" font-size="7.4" text-anchor="end" fill="#231f20" stroke="#231f20" stroke-width="0.16" textLength="3.91" lengthAdjust="spacingAndGlyphs">4</text>
<line x1="133.20" y1="608.30" x2="135.80" y2="608.30" stroke="#231f20" stroke-width="1.1" />
<text x="131.40" y="610.82" font-size="7.4" text-anchor="end" fill="#231f20" stroke="#231f20" stroke-width="0.16" textLength="3.91" lengthAdjust="spacingAndGlyphs">2</text>
<line x1="133.20" y1="626.30" x2="135.80" y2="626.30" stroke="#231f20" stroke-width="1.1" />
<text x="131.40" y="628.82" font-size="7.4" text-anchor="end" fill="#231f20" stroke="#231f20" stroke-width="0.16" textLength="3.91" lengthAdjust="spacingAndGlyphs">0</text>
<line x1="135.15" y1="626.30" x2="223.80" y2="626.30" stroke="#231f20" stroke-width="1.3" />
<rect x="138.90" y="606.32" width="8.00" height="19.98" fill="#c2c3c5" />
<rect x="150.30" y="550.70" width="8.20" height="75.60" fill="#1b5a8e" />
<rect x="162.00" y="571.85" width="8.50" height="54.45" fill="#3cb64a" />
<rect x="178.00" y="603.08" width="8.20" height="23.22" fill="#c2c3c5" />
<rect x="190.00" y="580.85" width="8.00" height="45.45" fill="#1b5a8e" />
<rect x="202.00" y="540.53" width="8.00" height="85.77" fill="#5a2a7e" />
<line x1="142.60" y1="603.70" x2="142.60" y2="608.30" stroke="#231f20" stroke-width="1.3" />
<line x1="140.80" y1="603.70" x2="144.40" y2="603.70" stroke="#231f20" stroke-width="1.3" />
<line x1="140.80" y1="608.30" x2="144.40" y2="608.30" stroke="#231f20" stroke-width="1.3" />
<line x1="166.30" y1="557.30" x2="166.30" y2="585.40" stroke="#231f20" stroke-width="1.3" />
<line x1="163.90" y1="557.30" x2="168.80" y2="557.30" stroke="#231f20" stroke-width="1.3" />
<line x1="163.90" y1="585.40" x2="168.80" y2="585.40" stroke="#231f20" stroke-width="1.3" />
<text x="154.10" y="533.86" font-size="8.4" text-anchor="middle" fill="#231f20" stroke="#231f20" stroke-width="0.16" textLength="26.4" lengthAdjust="spacingAndGlyphs">HPC<tspan font-size="5.4" dy="-2.8">LSK</tspan></text>
<line x1="141.00" y1="536.10" x2="166.60" y2="536.10" stroke="#231f20" stroke-width="1.3" />
<text x="195.60" y="533.86" font-size="8.4" text-anchor="middle" fill="#231f20" stroke="#231f20" stroke-width="0.16" textLength="24.75" lengthAdjust="spacingAndGlyphs">HPC-7</text>
<line x1="182.50" y1="536.10" x2="208.80" y2="536.10" stroke="#231f20" stroke-width="1.3" />
<text transform="translate(120.20,581.00) rotate(-90)" x="0" y="2.65" font-size="7.8" text-anchor="middle" fill="#3a3a3a" stroke="#3a3a3a" stroke-width="0.03" textLength="54.4" lengthAdjust="spacingAndGlyphs">MFI CD9 (×10<tspan font-size="5.2" dy="-2.6">4</tspan><tspan dy="2.6">)</tspan></text>
<text x="217.60" y="539.96" font-size="8.4" text-anchor="start" fill="#231f20" stroke="#231f20" stroke-width="0.16" textLength="28.2" lengthAdjust="spacingAndGlyphs">HPC<tspan font-size="5.6" dy="-2.8">LSK</tspan></text>
<rect x="217.40" y="542.20" width="9.50" height="5.00" fill="#c2c3c5" />
<text x="232.40" y="547.22" font-size="7.4" text-anchor="start" fill="#231f20" stroke="#231f20" stroke-width="0.16" font-weight="bold" textLength="6.9" lengthAdjust="spacingAndGlyphs">Wt</text>
<rect x="217.40" y="550.00" width="9.50" height="5.20" fill="#1b5a8e" />
<text x="232.40" y="555.12" font-size="7.4" text-anchor="start" fill="#231f20" stroke="#231f20" stroke-width="0.16" textLength="34.3" lengthAdjust="spacingAndGlyphs">+FLT3-ITD</text>
<rect x="217.40" y="557.70" width="9.50" height="5.40" fill="#3cb64a" />
<text x="232.40" y="562.92" font-size="7.4" text-anchor="start" fill="#231f20" stroke="#231f20" stroke-width="0.16" textLength="47.7" lengthAdjust="spacingAndGlyphs">+BCR/ABL<tspan font-size="4.6" dy="-2.4">p210</tspan></text>
<text x="218.20" y="579.46" font-size="8.4" text-anchor="start" fill="#231f20" stroke="#231f20" stroke-width="0.16" textLength="24.6" lengthAdjust="spacingAndGlyphs">HPC-7</text>
<rect x="217.40" y="581.10" width="9.50" height="5.40" fill="#c2c3c5" />
<text x="232.40" y="586.32" font-size="7.4" text-anchor="start" fill="#231f20" stroke="#231f20" stroke-width="0.16" font-weight="bold" textLength="6.9" lengthAdjust="spacingAndGlyphs">Wt</text>
<rect x="217.40" y="589.20" width="9.50" height="5.30" fill="#1b5a8e" />
<text x="232.40" y="594.37" font-size="7.4" text-anchor="start" fill="#231f20" stroke="#231f20" stroke-width="0.16" textLength="34.3" lengthAdjust="spacingAndGlyphs">+FLT3-ITD</text>
<rect x="217.40" y="597.20" width="9.50" height="5.40" fill="#5a2a7e" />
<text x="232.40" y="602.42" font-size="7.4" text-anchor="start" fill="#231f20" stroke="#231f20" stroke-width="0.16" textLength="38.4" lengthAdjust="spacingAndGlyphs">+JAK2<tspan font-size="4.6" dy="-2.4">V617F</tspan></text>
</svg></body></html>
